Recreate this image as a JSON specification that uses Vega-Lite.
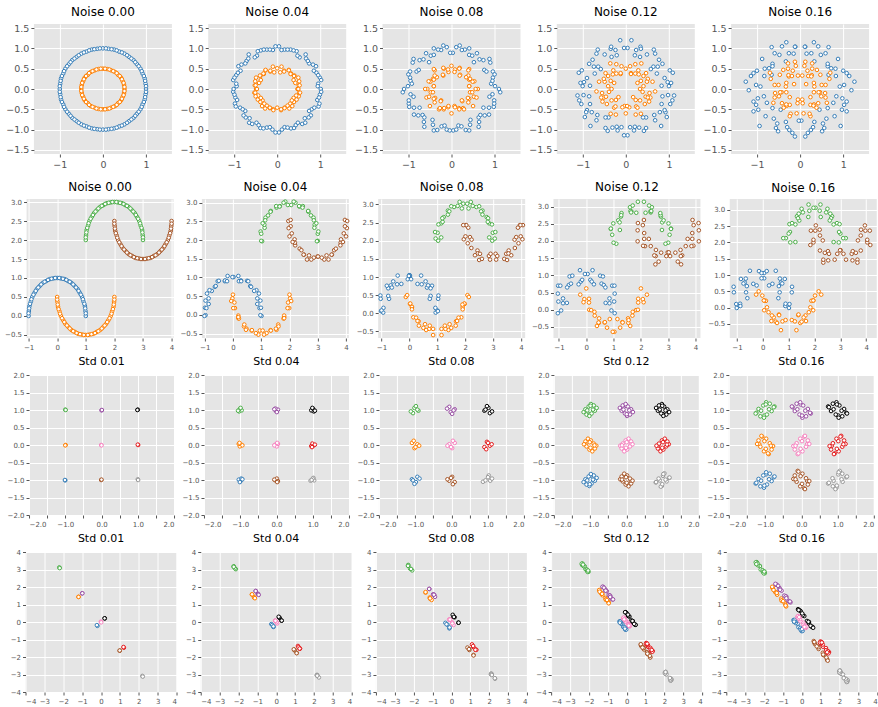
{
"$schema":"https://vega.github.io/schema/vega-lite/v6.json",
"padding":{"left":4,"top":6,"right":0,"bottom":0},
"config":{
"view":{"fill":"#E5E5E5","stroke":null},
"axis":{"domain":false,"grid":true,"gridColor":"#ffffff","gridWidth":1,"tickColor":"#555555","tickSize":3,"labelColor":"#555555","labelFont":"DejaVu Sans","labelFontSize":7,"labelPadding":2},
"title":{"font":"DejaVu Sans","fontSize":12,"fontWeight":"normal","color":"#000000","offset":4,"frame":"group"},
"point":{"filled":false,"size":13,"strokeWidth":1,"opacity":1,"fill":"#ffffff","clip":true},
"range":{"category":["#377eb8","#ff7f00","#4daf4a","#a65628","#984ea3","#000000","#f781bf","#e41a1c","#999999"]},
"legend":{"disable":true}
},
"columns":1,"center":true,"spacing":11,
"concat":[
{"hconcat":[
{"title":{"text":"Noise 0.00","fontWeight":"normal","fontSize":12},"width":138,"height":130,"mark":"point",
"encoding":{"x":{"field":"x","type":"quantitative","title":null,"scale":{"domain":[-1.6,1.6],"nice":false,"zero":false},"axis":{"values":[-1,0,1],"format":"d","labelFontSize":9.5}},"y":{"field":"y","type":"quantitative","title":null,"scale":{"domain":[-1.6,1.6],"nice":false,"zero":false},"axis":{"values":[-1.5,-1,-0.5,0,0.5,1,1.5],"format":".1f","labelFontSize":9.5}},"color":{"field":"c","type":"nominal","legend":null}},
"data":{"values":[
{"x":1,"y":0,"c":"a"},{"x":0.99,"y":0.13,"c":"a"},{"x":0.97,"y":0.26,"c":"a"},{"x":0.92,"y":0.38,"c":"a"},{"x":0.87,"y":0.5,"c":"a"},{"x":0.79,"y":0.61,"c":"a"},{"x":0.71,"y":0.71,"c":"a"},{"x":0.61,"y":0.79,"c":"a"},{"x":0.5,"y":0.87,"c":"a"},{"x":0.38,"y":0.92,"c":"a"},{"x":0.26,"y":0.97,"c":"a"},{"x":0.13,"y":0.99,"c":"a"},
{"x":0,"y":1,"c":"a"},{"x":-0.13,"y":0.99,"c":"a"},{"x":-0.26,"y":0.97,"c":"a"},{"x":-0.38,"y":0.92,"c":"a"},{"x":-0.5,"y":0.87,"c":"a"},{"x":-0.61,"y":0.79,"c":"a"},{"x":-0.71,"y":0.71,"c":"a"},{"x":-0.79,"y":0.61,"c":"a"},{"x":-0.87,"y":0.5,"c":"a"},{"x":-0.92,"y":0.38,"c":"a"},{"x":-0.97,"y":0.26,"c":"a"},{"x":-0.99,"y":0.13,"c":"a"},
{"x":-1,"y":0,"c":"a"},{"x":-0.99,"y":-0.13,"c":"a"},{"x":-0.97,"y":-0.26,"c":"a"},{"x":-0.92,"y":-0.38,"c":"a"},{"x":-0.87,"y":-0.5,"c":"a"},{"x":-0.79,"y":-0.61,"c":"a"},{"x":-0.71,"y":-0.71,"c":"a"},{"x":-0.61,"y":-0.79,"c":"a"},{"x":-0.5,"y":-0.87,"c":"a"},{"x":-0.38,"y":-0.92,"c":"a"},{"x":-0.26,"y":-0.97,"c":"a"},{"x":-0.13,"y":-0.99,"c":"a"},
{"x":0,"y":-1,"c":"a"},{"x":0.13,"y":-0.99,"c":"a"},{"x":0.26,"y":-0.97,"c":"a"},{"x":0.38,"y":-0.92,"c":"a"},{"x":0.5,"y":-0.87,"c":"a"},{"x":0.61,"y":-0.79,"c":"a"},{"x":0.71,"y":-0.71,"c":"a"},{"x":0.79,"y":-0.61,"c":"a"},{"x":0.87,"y":-0.5,"c":"a"},{"x":0.92,"y":-0.38,"c":"a"},{"x":0.97,"y":-0.26,"c":"a"},{"x":0.99,"y":-0.13,"c":"a"},
{"x":1,"y":0.07,"c":"a"},{"x":0.98,"y":0.2,"c":"a"},{"x":0.95,"y":0.32,"c":"a"},{"x":0.9,"y":0.44,"c":"a"},{"x":0.83,"y":0.56,"c":"a"},{"x":0.75,"y":0.66,"c":"a"},{"x":0.66,"y":0.75,"c":"a"},{"x":0.56,"y":0.83,"c":"a"},{"x":0.44,"y":0.9,"c":"a"},{"x":0.32,"y":0.95,"c":"a"},{"x":0.2,"y":0.98,"c":"a"},{"x":0.07,"y":1,"c":"a"},
{"x":-1,"y":0.07,"c":"a"},{"x":-0.98,"y":0.2,"c":"a"},{"x":-0.95,"y":0.32,"c":"a"},{"x":-0.9,"y":0.44,"c":"a"},{"x":-0.83,"y":0.56,"c":"a"},{"x":-0.75,"y":0.66,"c":"a"},{"x":-0.66,"y":0.75,"c":"a"},{"x":-0.56,"y":0.83,"c":"a"},{"x":-0.44,"y":0.9,"c":"a"},{"x":-0.32,"y":0.95,"c":"a"},{"x":-0.2,"y":0.98,"c":"a"},{"x":-0.07,"y":1,"c":"a"},
{"x":-1,"y":-0.07,"c":"a"},{"x":-0.98,"y":-0.2,"c":"a"},{"x":-0.95,"y":-0.32,"c":"a"},{"x":-0.9,"y":-0.44,"c":"a"},{"x":-0.83,"y":-0.56,"c":"a"},{"x":-0.75,"y":-0.66,"c":"a"},{"x":-0.66,"y":-0.75,"c":"a"},{"x":-0.56,"y":-0.83,"c":"a"},{"x":-0.44,"y":-0.9,"c":"a"},{"x":-0.32,"y":-0.95,"c":"a"},{"x":-0.2,"y":-0.98,"c":"a"},{"x":-0.07,"y":-1,"c":"a"},
{"x":1,"y":-0.07,"c":"a"},{"x":0.98,"y":-0.2,"c":"a"},{"x":0.95,"y":-0.32,"c":"a"},{"x":0.9,"y":-0.44,"c":"a"},{"x":0.83,"y":-0.56,"c":"a"},{"x":0.75,"y":-0.66,"c":"a"},{"x":0.66,"y":-0.75,"c":"a"},{"x":0.56,"y":-0.83,"c":"a"},{"x":0.44,"y":-0.9,"c":"a"},{"x":0.32,"y":-0.95,"c":"a"},{"x":0.2,"y":-0.98,"c":"a"},{"x":0.07,"y":-1,"c":"a"},
{"x":0.5,"y":0,"c":"b"},{"x":0.49,"y":0.1,"c":"b"},{"x":0.46,"y":0.19,"c":"b"},{"x":0.42,"y":0.28,"c":"b"},{"x":0.35,"y":0.35,"c":"b"},{"x":0.28,"y":0.42,"c":"b"},{"x":0.19,"y":0.46,"c":"b"},{"x":0.1,"y":0.49,"c":"b"},
{"x":0,"y":0.5,"c":"b"},{"x":-0.1,"y":0.49,"c":"b"},{"x":-0.19,"y":0.46,"c":"b"},{"x":-0.28,"y":0.42,"c":"b"},{"x":-0.35,"y":0.35,"c":"b"},{"x":-0.42,"y":0.28,"c":"b"},{"x":-0.46,"y":0.19,"c":"b"},{"x":-0.49,"y":0.1,"c":"b"},
{"x":-0.5,"y":0,"c":"b"},{"x":-0.49,"y":-0.1,"c":"b"},{"x":-0.46,"y":-0.19,"c":"b"},{"x":-0.42,"y":-0.28,"c":"b"},{"x":-0.35,"y":-0.35,"c":"b"},{"x":-0.28,"y":-0.42,"c":"b"},{"x":-0.19,"y":-0.46,"c":"b"},{"x":-0.1,"y":-0.49,"c":"b"},
{"x":0,"y":-0.5,"c":"b"},{"x":0.1,"y":-0.49,"c":"b"},{"x":0.19,"y":-0.46,"c":"b"},{"x":0.28,"y":-0.42,"c":"b"},{"x":0.35,"y":-0.35,"c":"b"},{"x":0.42,"y":-0.28,"c":"b"},{"x":0.46,"y":-0.19,"c":"b"},{"x":0.49,"y":-0.1,"c":"b"},
{"x":0.5,"y":0.05,"c":"b"},{"x":0.48,"y":0.15,"c":"b"},{"x":0.44,"y":0.24,"c":"b"},{"x":0.39,"y":0.32,"c":"b"},{"x":0.32,"y":0.39,"c":"b"},{"x":0.24,"y":0.44,"c":"b"},{"x":0.15,"y":0.48,"c":"b"},{"x":0.05,"y":0.5,"c":"b"},
{"x":-0.5,"y":0.05,"c":"b"},{"x":-0.48,"y":0.15,"c":"b"},{"x":-0.44,"y":0.24,"c":"b"},{"x":-0.39,"y":0.32,"c":"b"},{"x":-0.32,"y":0.39,"c":"b"},{"x":-0.24,"y":0.44,"c":"b"},{"x":-0.15,"y":0.48,"c":"b"},{"x":-0.05,"y":0.5,"c":"b"},
{"x":-0.5,"y":-0.05,"c":"b"},{"x":-0.48,"y":-0.15,"c":"b"},{"x":-0.44,"y":-0.24,"c":"b"},{"x":-0.39,"y":-0.32,"c":"b"},{"x":-0.32,"y":-0.39,"c":"b"},{"x":-0.24,"y":-0.44,"c":"b"},{"x":-0.15,"y":-0.48,"c":"b"},{"x":-0.05,"y":-0.5,"c":"b"},
{"x":0.5,"y":-0.05,"c":"b"},{"x":0.48,"y":-0.15,"c":"b"},{"x":0.44,"y":-0.24,"c":"b"},{"x":0.39,"y":-0.32,"c":"b"},{"x":0.32,"y":-0.39,"c":"b"},{"x":0.24,"y":-0.44,"c":"b"},{"x":0.15,"y":-0.48,"c":"b"},{"x":0.05,"y":-0.5,"c":"b"}
]}},
{"title":{"text":"Noise 0.04","fontWeight":"normal","fontSize":12},"width":138,"height":130,"mark":"point",
"encoding":{"x":{"field":"x","type":"quantitative","title":null,"scale":{"domain":[-1.6,1.6],"nice":false,"zero":false},"axis":{"values":[-1,0,1],"format":"d","labelFontSize":9.5}},"y":{"field":"y","type":"quantitative","title":null,"scale":{"domain":[-1.6,1.6],"nice":false,"zero":false},"axis":{"values":[-1.5,-1,-0.5,0,0.5,1,1.5],"format":".1f","labelFontSize":9.5}},"color":{"field":"c","type":"nominal","legend":null}},
"data":{"values":[
{"x":1.01,"y":0,"c":"a"},{"x":0.95,"y":0.13,"c":"a"},{"x":0.99,"y":0.28,"c":"a"},{"x":0.91,"y":0.4,"c":"a"},{"x":0.9,"y":0.56,"c":"a"},{"x":0.74,"y":0.63,"c":"a"},{"x":0.67,"y":0.75,"c":"a"},{"x":0.52,"y":0.78,"c":"a"},{"x":0.45,"y":0.93,"c":"a"},{"x":0.31,"y":0.97,"c":"a"},{"x":0.17,"y":0.97,"c":"a"},{"x":0.04,"y":1.05,"c":"a"},{"x":-0.1,"y":0.96,"c":"a"},{"x":-0.24,"y":0.97,"c":"a"},{"x":-0.38,"y":0.95,"c":"a"},{"x":-0.47,"y":0.82,"c":"a"},{"x":-0.66,"y":0.85,"c":"a"},{"x":-0.71,"y":0.69,"c":"a"},{"x":-0.83,"y":0.6,"c":"a"},{"x":-0.85,"y":0.45,"c":"a"},{"x":-0.95,"y":0.34,"c":"a"},{"x":-1.02,"y":0.22,"c":"a"},{"x":-0.94,"y":0.07,"c":"a"},{"x":-1.02,"y":-0.07,"c":"a"},{"x":-0.97,"y":-0.21,"c":"a"},{"x":-0.98,"y":-0.36,"c":"a"},{"x":-0.86,"y":-0.46,"c":"a"},{"x":-0.74,"y":-0.54,"c":"a"},{"x":-0.73,"y":-0.7,"c":"a"},{"x":-0.65,"y":-0.83,"c":"a"},{"x":-0.48,"y":-0.83,"c":"a"},{"x":-0.39,"y":-0.96,"c":"a"},{"x":-0.24,"y":-0.95,"c":"a"},{"x":-0.11,"y":-1,"c":"a"},{"x":0.04,"y":-1.07,"c":"a"},{"x":0.17,"y":-0.94,"c":"a"},{"x":0.32,"y":-0.97,"c":"a"},{"x":0.43,"y":-0.89,"c":"a"},{"x":0.58,"y":-0.86,"c":"a"},{"x":0.64,"y":-0.72,"c":"a"},{"x":0.78,"y":-0.65,"c":"a"},{"x":0.8,"y":-0.5,"c":"a"},{"x":0.96,"y":-0.43,"c":"a"},{"x":0.93,"y":-0.27,"c":"a"},{"x":0.99,"y":-0.14,"c":"a"},
{"x":-1.01,"y":0,"c":"a"},{"x":-0.95,"y":0.13,"c":"a"},{"x":-0.99,"y":0.28,"c":"a"},{"x":-0.91,"y":0.4,"c":"a"},{"x":-0.9,"y":0.56,"c":"a"},{"x":-0.74,"y":0.63,"c":"a"},{"x":-0.67,"y":0.75,"c":"a"},{"x":-0.52,"y":0.78,"c":"a"},{"x":-0.45,"y":0.93,"c":"a"},{"x":-0.31,"y":0.97,"c":"a"},{"x":-0.17,"y":0.97,"c":"a"},{"x":-0.04,"y":1.05,"c":"a"},{"x":0.1,"y":0.96,"c":"a"},{"x":0.24,"y":0.97,"c":"a"},{"x":0.38,"y":0.95,"c":"a"},{"x":0.47,"y":0.82,"c":"a"},{"x":0.66,"y":0.85,"c":"a"},{"x":0.71,"y":0.69,"c":"a"},{"x":0.83,"y":0.6,"c":"a"},{"x":0.85,"y":0.45,"c":"a"},{"x":0.95,"y":0.34,"c":"a"},{"x":1.02,"y":0.22,"c":"a"},{"x":0.94,"y":0.07,"c":"a"},{"x":1.02,"y":-0.07,"c":"a"},{"x":0.97,"y":-0.21,"c":"a"},{"x":0.98,"y":-0.36,"c":"a"},{"x":0.86,"y":-0.46,"c":"a"},{"x":0.74,"y":-0.54,"c":"a"},{"x":0.73,"y":-0.7,"c":"a"},{"x":0.65,"y":-0.83,"c":"a"},{"x":0.48,"y":-0.83,"c":"a"},{"x":0.39,"y":-0.96,"c":"a"},{"x":0.24,"y":-0.95,"c":"a"},{"x":0.11,"y":-1,"c":"a"},{"x":-0.04,"y":-1.07,"c":"a"},{"x":-0.17,"y":-0.94,"c":"a"},{"x":-0.32,"y":-0.97,"c":"a"},{"x":-0.43,"y":-0.89,"c":"a"},{"x":-0.58,"y":-0.86,"c":"a"},{"x":-0.64,"y":-0.72,"c":"a"},{"x":-0.78,"y":-0.65,"c":"a"},{"x":-0.8,"y":-0.5,"c":"a"},{"x":-0.96,"y":-0.43,"c":"a"},{"x":-0.93,"y":-0.27,"c":"a"},{"x":-0.99,"y":-0.14,"c":"a"},
{"x":0.47,"y":0,"c":"b"},{"x":0.5,"y":0.09,"c":"b"},{"x":0.51,"y":0.19,"c":"b"},{"x":0.38,"y":0.22,"c":"b"},{"x":0.4,"y":0.33,"c":"b"},{"x":0.32,"y":0.38,"c":"b"},{"x":0.27,"y":0.47,"c":"b"},{"x":0.16,"y":0.45,"c":"b"},{"x":0.07,"y":0.41,"c":"b"},{"x":0,"y":0.51,"c":"b"},{"x":-0.1,"y":0.55,"c":"b"},{"x":-0.16,"y":0.43,"c":"b"},{"x":-0.27,"y":0.46,"c":"b"},{"x":-0.31,"y":0.37,"c":"b"},{"x":-0.39,"y":0.32,"c":"b"},{"x":-0.49,"y":0.28,"c":"b"},{"x":-0.42,"y":0.15,"c":"b"},{"x":-0.52,"y":0.09,"c":"b"},{"x":-0.49,"y":0,"c":"b"},{"x":-0.53,"y":-0.09,"c":"b"},{"x":-0.44,"y":-0.16,"c":"b"},{"x":-0.45,"y":-0.26,"c":"b"},{"x":-0.34,"y":-0.28,"c":"b"},{"x":-0.35,"y":-0.42,"c":"b"},{"x":-0.24,"y":-0.41,"c":"b"},{"x":-0.17,"y":-0.47,"c":"b"},{"x":-0.09,"y":-0.5,"c":"b"},{"x":0,"y":-0.46,"c":"b"},{"x":0.09,"y":-0.52,"c":"b"},{"x":0.17,"y":-0.46,"c":"b"},{"x":0.28,"y":-0.48,"c":"b"},{"x":0.3,"y":-0.36,"c":"b"},{"x":0.39,"y":-0.32,"c":"b"},{"x":0.38,"y":-0.22,"c":"b"},{"x":0.5,"y":-0.18,"c":"b"},{"x":0.51,"y":-0.09,"c":"b"},
{"x":-0.47,"y":0,"c":"b"},{"x":-0.5,"y":0.09,"c":"b"},{"x":-0.51,"y":0.19,"c":"b"},{"x":-0.38,"y":0.22,"c":"b"},{"x":-0.4,"y":0.33,"c":"b"},{"x":-0.32,"y":0.38,"c":"b"},{"x":-0.27,"y":0.47,"c":"b"},{"x":-0.16,"y":0.45,"c":"b"},{"x":-0.07,"y":0.41,"c":"b"},{"x":0.1,"y":0.55,"c":"b"},{"x":0.16,"y":0.43,"c":"b"},{"x":0.27,"y":0.46,"c":"b"},{"x":0.31,"y":0.37,"c":"b"},{"x":0.39,"y":0.32,"c":"b"},{"x":0.49,"y":0.28,"c":"b"},{"x":0.42,"y":0.15,"c":"b"},{"x":0.52,"y":0.09,"c":"b"},{"x":0.49,"y":0,"c":"b"},{"x":0.53,"y":-0.09,"c":"b"},{"x":0.44,"y":-0.16,"c":"b"},{"x":0.45,"y":-0.26,"c":"b"},{"x":0.34,"y":-0.28,"c":"b"},{"x":0.35,"y":-0.42,"c":"b"},{"x":0.24,"y":-0.41,"c":"b"},{"x":0.17,"y":-0.47,"c":"b"},{"x":0.09,"y":-0.5,"c":"b"},{"x":-0.09,"y":-0.52,"c":"b"},{"x":-0.17,"y":-0.46,"c":"b"},{"x":-0.28,"y":-0.48,"c":"b"},{"x":-0.3,"y":-0.36,"c":"b"},{"x":-0.39,"y":-0.32,"c":"b"},{"x":-0.38,"y":-0.22,"c":"b"},{"x":-0.5,"y":-0.18,"c":"b"},{"x":-0.51,"y":-0.09,"c":"b"}
]}},
{"title":{"text":"Noise 0.08","fontWeight":"normal","fontSize":12},"width":138,"height":130,"mark":"point",
"encoding":{"x":{"field":"x","type":"quantitative","title":null,"scale":{"domain":[-1.6,1.6],"nice":false,"zero":false},"axis":{"values":[-1,0,1],"format":"d","labelFontSize":9.5}},"y":{"field":"y","type":"quantitative","title":null,"scale":{"domain":[-1.6,1.6],"nice":false,"zero":false},"axis":{"values":[-1.5,-1,-0.5,0,0.5,1,1.5],"format":".1f","labelFontSize":9.5}},"color":{"field":"c","type":"nominal","legend":null}},
"data":{"values":[
{"x":1.1,"y":0,"c":"a"},{"x":0.92,"y":0.13,"c":"a"},{"x":0.96,"y":0.28,"c":"a"},{"x":0.96,"y":0.43,"c":"a"},{"x":0.76,"y":0.47,"c":"a"},{"x":0.88,"y":0.74,"c":"a"},{"x":0.65,"y":0.73,"c":"a"},{"x":0.59,"y":0.88,"c":"a"},{"x":0.41,"y":0.84,"c":"a"},{"x":0.31,"y":0.97,"c":"a"},{"x":0.19,"y":1.07,"c":"a"},{"x":0.03,"y":0.89,"c":"a"},{"x":-0.11,"y":1.03,"c":"a"},{"x":-0.24,"y":0.96,"c":"a"},{"x":-0.41,"y":1,"c":"a"},{"x":-0.48,"y":0.82,"c":"a"},{"x":-0.52,"y":0.66,"c":"a"},{"x":-0.74,"y":0.71,"c":"a"},{"x":-0.9,"y":0.65,"c":"a"},{"x":-0.81,"y":0.43,"c":"a"},{"x":-1,"y":0.36,"c":"a"},{"x":-0.95,"y":0.2,"c":"a"},{"x":-1.01,"y":0.07,"c":"a"},{"x":-1.13,"y":-0.08,"c":"a"},{"x":-0.88,"y":-0.19,"c":"a"},{"x":-0.99,"y":-0.36,"c":"a"},{"x":-0.87,"y":-0.46,"c":"a"},{"x":-0.87,"y":-0.63,"c":"a"},{"x":-0.67,"y":-0.64,"c":"a"},{"x":-0.64,"y":-0.81,"c":"a"},{"x":-0.44,"y":-0.76,"c":"a"},{"x":-0.41,"y":-1.02,"c":"a"},{"x":-0.23,"y":-0.92,"c":"a"},{"x":-0.11,"y":-1,"c":"a"},{"x":0.04,"y":-1.02,"c":"a"},{"x":0.16,"y":-0.9,"c":"a"},{"x":0.33,"y":-1.01,"c":"a"},{"x":0.43,"y":-0.88,"c":"a"},{"x":0.63,"y":-0.93,"c":"a"},{"x":0.63,"y":-0.7,"c":"a"},{"x":0.77,"y":-0.65,"c":"a"},{"x":0.74,"y":-0.46,"c":"a"},{"x":0.98,"y":-0.44,"c":"a"},{"x":0.99,"y":-0.28,"c":"a"},{"x":0.95,"y":-0.13,"c":"a"},
{"x":-1.1,"y":0,"c":"a"},{"x":-0.92,"y":0.13,"c":"a"},{"x":-0.96,"y":0.28,"c":"a"},{"x":-0.96,"y":0.43,"c":"a"},{"x":-0.76,"y":0.47,"c":"a"},{"x":-0.88,"y":0.74,"c":"a"},{"x":-0.65,"y":0.73,"c":"a"},{"x":-0.59,"y":0.88,"c":"a"},{"x":-0.41,"y":0.84,"c":"a"},{"x":-0.31,"y":0.97,"c":"a"},{"x":-0.19,"y":1.07,"c":"a"},{"x":-0.03,"y":0.89,"c":"a"},{"x":0.11,"y":1.03,"c":"a"},{"x":0.24,"y":0.96,"c":"a"},{"x":0.41,"y":1,"c":"a"},{"x":0.48,"y":0.82,"c":"a"},{"x":0.52,"y":0.66,"c":"a"},{"x":0.74,"y":0.71,"c":"a"},{"x":0.9,"y":0.65,"c":"a"},{"x":0.81,"y":0.43,"c":"a"},{"x":1,"y":0.36,"c":"a"},{"x":0.95,"y":0.2,"c":"a"},{"x":1.01,"y":0.07,"c":"a"},{"x":1.13,"y":-0.08,"c":"a"},{"x":0.88,"y":-0.19,"c":"a"},{"x":0.99,"y":-0.36,"c":"a"},{"x":0.87,"y":-0.46,"c":"a"},{"x":0.87,"y":-0.63,"c":"a"},{"x":0.67,"y":-0.64,"c":"a"},{"x":0.64,"y":-0.81,"c":"a"},{"x":0.44,"y":-0.76,"c":"a"},{"x":0.41,"y":-1.02,"c":"a"},{"x":0.23,"y":-0.92,"c":"a"},{"x":0.11,"y":-1,"c":"a"},{"x":-0.04,"y":-1.02,"c":"a"},{"x":-0.16,"y":-0.9,"c":"a"},{"x":-0.33,"y":-1.01,"c":"a"},{"x":-0.43,"y":-0.88,"c":"a"},{"x":-0.63,"y":-0.93,"c":"a"},{"x":-0.63,"y":-0.7,"c":"a"},{"x":-0.77,"y":-0.65,"c":"a"},{"x":-0.74,"y":-0.46,"c":"a"},{"x":-0.98,"y":-0.44,"c":"a"},{"x":-0.99,"y":-0.28,"c":"a"},{"x":-0.95,"y":-0.13,"c":"a"},
{"x":0.61,"y":0,"c":"b"},{"x":0.41,"y":0.07,"c":"b"},{"x":0.53,"y":0.19,"c":"b"},{"x":0.41,"y":0.23,"c":"b"},{"x":0.39,"y":0.33,"c":"b"},{"x":0.41,"y":0.49,"c":"b"},{"x":0.2,"y":0.35,"c":"b"},{"x":0.19,"y":0.52,"c":"b"},{"x":0.08,"y":0.48,"c":"b"},{"x":0,"y":0.57,"c":"b"},{"x":-0.07,"y":0.42,"c":"b"},{"x":-0.18,"y":0.5,"c":"b"},{"x":-0.19,"y":0.33,"c":"b"},{"x":-0.39,"y":0.46,"c":"b"},{"x":-0.34,"y":0.29,"c":"b"},{"x":-0.43,"y":0.25,"c":"b"},{"x":-0.49,"y":0.18,"c":"b"},{"x":-0.41,"y":0.07,"c":"b"},{"x":-0.56,"y":0,"c":"b"},{"x":-0.48,"y":-0.08,"c":"b"},{"x":-0.58,"y":-0.21,"c":"b"},{"x":-0.38,"y":-0.22,"c":"b"},{"x":-0.39,"y":-0.33,"c":"b"},{"x":-0.24,"y":-0.28,"c":"b"},{"x":-0.29,"y":-0.5,"c":"b"},{"x":-0.18,"y":-0.5,"c":"b"},{"x":-0.08,"y":-0.45,"c":"b"},{"x":0,"y":-0.6,"c":"b"},{"x":0.07,"y":-0.42,"c":"b"},{"x":0.17,"y":-0.47,"c":"b"},{"x":0.27,"y":-0.47,"c":"b"},{"x":0.25,"y":-0.3,"c":"b"},{"x":0.5,"y":-0.42,"c":"b"},{"x":0.41,"y":-0.24,"c":"b"},{"x":0.52,"y":-0.19,"c":"b"},{"x":0.43,"y":-0.08,"c":"b"},
{"x":-0.61,"y":0,"c":"b"},{"x":-0.41,"y":0.07,"c":"b"},{"x":-0.53,"y":0.19,"c":"b"},{"x":-0.41,"y":0.23,"c":"b"},{"x":-0.39,"y":0.33,"c":"b"},{"x":-0.41,"y":0.49,"c":"b"},{"x":-0.2,"y":0.35,"c":"b"},{"x":-0.19,"y":0.52,"c":"b"},{"x":-0.08,"y":0.48,"c":"b"},{"x":0.07,"y":0.42,"c":"b"},{"x":0.18,"y":0.5,"c":"b"},{"x":0.19,"y":0.33,"c":"b"},{"x":0.39,"y":0.46,"c":"b"},{"x":0.34,"y":0.29,"c":"b"},{"x":0.43,"y":0.25,"c":"b"},{"x":0.49,"y":0.18,"c":"b"},{"x":0.41,"y":0.07,"c":"b"},{"x":0.56,"y":0,"c":"b"},{"x":0.48,"y":-0.08,"c":"b"},{"x":0.58,"y":-0.21,"c":"b"},{"x":0.38,"y":-0.22,"c":"b"},{"x":0.39,"y":-0.33,"c":"b"},{"x":0.24,"y":-0.28,"c":"b"},{"x":0.29,"y":-0.5,"c":"b"},{"x":0.18,"y":-0.5,"c":"b"},{"x":0.08,"y":-0.45,"c":"b"},{"x":-0.07,"y":-0.42,"c":"b"},{"x":-0.17,"y":-0.47,"c":"b"},{"x":-0.27,"y":-0.47,"c":"b"},{"x":-0.25,"y":-0.3,"c":"b"},{"x":-0.5,"y":-0.42,"c":"b"},{"x":-0.41,"y":-0.24,"c":"b"},{"x":-0.52,"y":-0.19,"c":"b"},{"x":-0.43,"y":-0.08,"c":"b"}
]}},
{"title":{"text":"Noise 0.12","fontWeight":"normal","fontSize":12},"width":138,"height":130,"mark":"point",
"encoding":{"x":{"field":"x","type":"quantitative","title":null,"scale":{"domain":[-1.6,1.6],"nice":false,"zero":false},"axis":{"values":[-1,0,1],"format":"d","labelFontSize":9.5}},"y":{"field":"y","type":"quantitative","title":null,"scale":{"domain":[-1.6,1.6],"nice":false,"zero":false},"axis":{"values":[-1.5,-1,-0.5,0,0.5,1,1.5],"format":".1f","labelFontSize":9.5}},"color":{"field":"c","type":"nominal","legend":null}},
"data":{"values":[
{"x":0.83,"y":0.08,"c":"a"},{"x":1.05,"y":0.15,"c":"a"},{"x":0.97,"y":0.17,"c":"a"},{"x":1.02,"y":0.46,"c":"a"},{"x":0.74,"y":0.55,"c":"a"},{"x":0.58,"y":0.49,"c":"a"},{"x":0.77,"y":0.72,"c":"a"},{"x":0.65,"y":0.97,"c":"a"},{"x":0.33,"y":0.79,"c":"a"},{"x":0.34,"y":1.04,"c":"a"},{"x":0.24,"y":0.96,"c":"a"},{"x":0.04,"y":1.01,"c":"a"},{"x":-0.13,"y":1.2,"c":"a"},{"x":-0.21,"y":0.83,"c":"a"},{"x":-0.35,"y":0.99,"c":"a"},{"x":-0.49,"y":0.85,"c":"a"},{"x":-0.68,"y":0.87,"c":"a"},{"x":-0.64,"y":0.55,"c":"a"},{"x":-0.85,"y":0.62,"c":"a"},{"x":-0.72,"y":0.38,"c":"a"},{"x":-1.09,"y":0.4,"c":"a"},{"x":-0.9,"y":0.27,"c":"a"},{"x":-1,"y":0.07,"c":"a"},{"x":-0.98,"y":-0.15,"c":"a"},{"x":-0.85,"y":-0.18,"c":"a"},{"x":-1.03,"y":-0.37,"c":"a"},{"x":-0.9,"y":-0.52,"c":"a"},{"x":-0.95,"y":-0.69,"c":"a"},{"x":-0.66,"y":-0.64,"c":"a"},{"x":-0.68,"y":-0.77,"c":"a"},{"x":-0.4,"y":-0.7,"c":"a"},{"x":-0.42,"y":-1.03,"c":"a"},{"x":-0.19,"y":-1.02,"c":"a"},{"x":-0.1,"y":-0.94,"c":"a"},{"x":0.04,"y":-1.14,"c":"a"},{"x":0.21,"y":-0.93,"c":"a"},{"x":0.31,"y":-0.95,"c":"a"},{"x":0.47,"y":-0.96,"c":"a"},{"x":0.47,"y":-0.7,"c":"a"},{"x":0.82,"y":-0.91,"c":"a"},{"x":0.79,"y":-0.57,"c":"a"},{"x":0.92,"y":-0.57,"c":"a"},{"x":0.83,"y":-0.37,"c":"a"},{"x":1.08,"y":-0.28,"c":"a"},{"x":1.12,"y":-0.16,"c":"a"},
{"x":-0.83,"y":0.08,"c":"a"},{"x":-1.05,"y":0.15,"c":"a"},{"x":-0.97,"y":0.17,"c":"a"},{"x":-1.02,"y":0.46,"c":"a"},{"x":-0.74,"y":0.55,"c":"a"},{"x":-0.58,"y":0.49,"c":"a"},{"x":-0.77,"y":0.72,"c":"a"},{"x":-0.65,"y":0.97,"c":"a"},{"x":-0.33,"y":0.79,"c":"a"},{"x":-0.34,"y":1.04,"c":"a"},{"x":-0.24,"y":0.96,"c":"a"},{"x":-0.04,"y":1.01,"c":"a"},{"x":0.13,"y":1.2,"c":"a"},{"x":0.21,"y":0.83,"c":"a"},{"x":0.35,"y":0.99,"c":"a"},{"x":0.49,"y":0.85,"c":"a"},{"x":0.68,"y":0.87,"c":"a"},{"x":0.64,"y":0.55,"c":"a"},{"x":0.85,"y":0.62,"c":"a"},{"x":0.72,"y":0.38,"c":"a"},{"x":1.09,"y":0.4,"c":"a"},{"x":0.9,"y":0.27,"c":"a"},{"x":1,"y":0.07,"c":"a"},{"x":0.98,"y":-0.15,"c":"a"},{"x":0.85,"y":-0.18,"c":"a"},{"x":1.03,"y":-0.37,"c":"a"},{"x":0.9,"y":-0.52,"c":"a"},{"x":0.95,"y":-0.69,"c":"a"},{"x":0.66,"y":-0.64,"c":"a"},{"x":0.68,"y":-0.77,"c":"a"},{"x":0.4,"y":-0.7,"c":"a"},{"x":0.42,"y":-1.03,"c":"a"},{"x":0.19,"y":-1.02,"c":"a"},{"x":0.1,"y":-0.94,"c":"a"},{"x":-0.04,"y":-1.14,"c":"a"},{"x":-0.21,"y":-0.93,"c":"a"},{"x":-0.31,"y":-0.95,"c":"a"},{"x":-0.47,"y":-0.96,"c":"a"},{"x":-0.47,"y":-0.7,"c":"a"},{"x":-0.82,"y":-0.91,"c":"a"},{"x":-0.79,"y":-0.57,"c":"a"},{"x":-0.92,"y":-0.57,"c":"a"},{"x":-0.83,"y":-0.37,"c":"a"},{"x":-1.08,"y":-0.28,"c":"a"},{"x":-1.12,"y":-0.16,"c":"a"},
{"x":0.68,"y":-0.06,"c":"b"},{"x":0.41,"y":0.07,"c":"b"},{"x":0.51,"y":0.25,"c":"b"},{"x":0.27,"y":0.15,"c":"b"},{"x":0.47,"y":0.39,"c":"b"},{"x":0.29,"y":0.46,"c":"b"},{"x":0.22,"y":0.38,"c":"b"},{"x":0.22,"y":0.61,"c":"b"},{"x":0.12,"y":0.39,"c":"b"},{"x":0,"y":0.5,"c":"b"},{"x":-0.1,"y":0.56,"c":"b"},{"x":-0.12,"y":0.37,"c":"b"},{"x":-0.36,"y":0.63,"c":"b"},{"x":-0.3,"y":0.36,"c":"b"},{"x":-0.41,"y":0.32,"c":"b"},{"x":-0.35,"y":0.2,"c":"b"},{"x":-0.49,"y":0.18,"c":"b"},{"x":-0.62,"y":0.18,"c":"b"},{"x":-0.33,"y":0,"c":"b"},{"x":-0.55,"y":-0.1,"c":"b"},{"x":-0.51,"y":-0.21,"c":"b"},{"x":-0.54,"y":-0.31,"c":"b"},{"x":-0.33,"y":-0.28,"c":"b"},{"x":-0.17,"y":-0.2,"c":"b"},{"x":-0.27,"y":-0.46,"c":"b"},{"x":-0.23,"y":-0.63,"c":"b"},{"x":-0.03,"y":-0.42,"c":"b"},{"x":0,"y":-0.6,"c":"b"},{"x":0.08,"y":-0.45,"c":"b"},{"x":0.24,"y":-0.43,"c":"b"},{"x":0.35,"y":-0.61,"c":"b"},{"x":0.23,"y":-0.27,"c":"b"},{"x":0.44,"y":-0.37,"c":"b"},{"x":0.46,"y":-0.19,"c":"b"},{"x":0.57,"y":-0.21,"c":"b"},{"x":0.39,"y":-0.07,"c":"b"},
{"x":-0.68,"y":-0.06,"c":"b"},{"x":-0.41,"y":0.07,"c":"b"},{"x":-0.51,"y":0.25,"c":"b"},{"x":-0.27,"y":0.15,"c":"b"},{"x":-0.47,"y":0.39,"c":"b"},{"x":-0.29,"y":0.46,"c":"b"},{"x":-0.22,"y":0.38,"c":"b"},{"x":-0.22,"y":0.61,"c":"b"},{"x":-0.12,"y":0.39,"c":"b"},{"x":0.1,"y":0.56,"c":"b"},{"x":0.12,"y":0.37,"c":"b"},{"x":0.36,"y":0.63,"c":"b"},{"x":0.3,"y":0.36,"c":"b"},{"x":0.41,"y":0.32,"c":"b"},{"x":0.35,"y":0.2,"c":"b"},{"x":0.49,"y":0.18,"c":"b"},{"x":0.62,"y":0.18,"c":"b"},{"x":0.33,"y":0,"c":"b"},{"x":0.55,"y":-0.1,"c":"b"},{"x":0.51,"y":-0.21,"c":"b"},{"x":0.54,"y":-0.31,"c":"b"},{"x":0.33,"y":-0.28,"c":"b"},{"x":0.17,"y":-0.2,"c":"b"},{"x":0.27,"y":-0.46,"c":"b"},{"x":0.23,"y":-0.63,"c":"b"},{"x":0.03,"y":-0.42,"c":"b"},{"x":-0.08,"y":-0.45,"c":"b"},{"x":-0.24,"y":-0.43,"c":"b"},{"x":-0.35,"y":-0.61,"c":"b"},{"x":-0.23,"y":-0.27,"c":"b"},{"x":-0.44,"y":-0.37,"c":"b"},{"x":-0.46,"y":-0.19,"c":"b"},{"x":-0.57,"y":-0.21,"c":"b"},{"x":-0.39,"y":-0.07,"c":"b"}
]}},
{"title":{"text":"Noise 0.16","fontWeight":"normal","fontSize":12},"width":138,"height":130,"mark":"point",
"encoding":{"x":{"field":"x","type":"quantitative","title":null,"scale":{"domain":[-1.6,1.6],"nice":false,"zero":false},"axis":{"values":[-1,0,1],"format":"d","labelFontSize":9.5}},"y":{"field":"y","type":"quantitative","title":null,"scale":{"domain":[-1.6,1.6],"nice":false,"zero":false},"axis":{"values":[-1.5,-1,-0.5,0,0.5,1,1.5],"format":".1f","labelFontSize":9.5}},"color":{"field":"c","type":"nominal","legend":null}},
"data":{"values":[
{"x":1.02,"y":0.1,"c":"a"},{"x":1.26,"y":0.18,"c":"a"},{"x":0.83,"y":0.32,"c":"a"},{"x":1,"y":0.45,"c":"a"},{"x":0.72,"y":0.51,"c":"a"},{"x":0.88,"y":0.74,"c":"a"},{"x":0.64,"y":0.56,"c":"a"},{"x":0.59,"y":0.88,"c":"a"},{"x":0.33,"y":0.68,"c":"a"},{"x":0.32,"y":1.15,"c":"a"},{"x":0.15,"y":0.87,"c":"a"},{"x":0.12,"y":1.04,"c":"a"},{"x":-0.11,"y":1.04,"c":"a"},{"x":-0.26,"y":0.88,"c":"a"},{"x":-0.42,"y":1.05,"c":"a"},{"x":-0.48,"y":0.84,"c":"a"},{"x":-0.66,"y":1.03,"c":"a"},{"x":-0.64,"y":0.62,"c":"a"},{"x":-0.82,"y":0.5,"c":"a"},{"x":-0.66,"y":0.35,"c":"a"},{"x":-1.08,"y":0.39,"c":"a"},{"x":-1.14,"y":0.32,"c":"a"},{"x":-0.92,"y":0.06,"c":"a"},{"x":-1.19,"y":-0.03,"c":"a"},{"x":-0.84,"y":-0.18,"c":"a"},{"x":-1.02,"y":-0.39,"c":"a"},{"x":-0.97,"y":-0.51,"c":"a"},{"x":-0.64,"y":-0.47,"c":"a"},{"x":-0.94,"y":-0.91,"c":"a"},{"x":-0.53,"y":-0.85,"c":"a"},{"x":-0.56,"y":-0.96,"c":"a"},{"x":-0.33,"y":-0.81,"c":"a"},{"x":-0.18,"y":-1.08,"c":"a"},{"x":-0.12,"y":-1.17,"c":"a"},{"x":0.03,"y":-0.78,"c":"a"},{"x":0.25,"y":-1.01,"c":"a"},{"x":0.3,"y":-0.94,"c":"a"},{"x":0.51,"y":-1.04,"c":"a"},{"x":0.61,"y":-0.73,"c":"a"},{"x":0.45,"y":-0.51,"c":"a"},{"x":0.8,"y":-0.67,"c":"a"},{"x":1.08,"y":-0.55,"c":"a"},{"x":0.77,"y":-0.34,"c":"a"},{"x":1.08,"y":-0.31,"c":"a"},{"x":0.98,"y":-0.23,"c":"a"},
{"x":-1.02,"y":0.1,"c":"a"},{"x":-1.26,"y":0.18,"c":"a"},{"x":-0.83,"y":0.32,"c":"a"},{"x":-1,"y":0.45,"c":"a"},{"x":-0.72,"y":0.51,"c":"a"},{"x":-0.88,"y":0.74,"c":"a"},{"x":-0.64,"y":0.56,"c":"a"},{"x":-0.59,"y":0.88,"c":"a"},{"x":-0.33,"y":0.68,"c":"a"},{"x":-0.32,"y":1.15,"c":"a"},{"x":-0.15,"y":0.87,"c":"a"},{"x":-0.12,"y":1.04,"c":"a"},{"x":0.11,"y":1.04,"c":"a"},{"x":0.26,"y":0.88,"c":"a"},{"x":0.42,"y":1.05,"c":"a"},{"x":0.48,"y":0.84,"c":"a"},{"x":0.66,"y":1.03,"c":"a"},{"x":0.64,"y":0.62,"c":"a"},{"x":0.82,"y":0.5,"c":"a"},{"x":0.66,"y":0.35,"c":"a"},{"x":1.08,"y":0.39,"c":"a"},{"x":1.14,"y":0.32,"c":"a"},{"x":0.92,"y":0.06,"c":"a"},{"x":1.19,"y":-0.03,"c":"a"},{"x":0.84,"y":-0.18,"c":"a"},{"x":1.02,"y":-0.39,"c":"a"},{"x":0.97,"y":-0.51,"c":"a"},{"x":0.64,"y":-0.47,"c":"a"},{"x":0.94,"y":-0.91,"c":"a"},{"x":0.53,"y":-0.85,"c":"a"},{"x":0.56,"y":-0.96,"c":"a"},{"x":0.33,"y":-0.81,"c":"a"},{"x":0.18,"y":-1.08,"c":"a"},{"x":0.12,"y":-1.17,"c":"a"},{"x":-0.03,"y":-0.78,"c":"a"},{"x":-0.25,"y":-1.01,"c":"a"},{"x":-0.3,"y":-0.94,"c":"a"},{"x":-0.51,"y":-1.04,"c":"a"},{"x":-0.61,"y":-0.73,"c":"a"},{"x":-0.45,"y":-0.51,"c":"a"},{"x":-0.8,"y":-0.67,"c":"a"},{"x":-1.08,"y":-0.55,"c":"a"},{"x":-0.77,"y":-0.34,"c":"a"},{"x":-1.08,"y":-0.31,"c":"a"},{"x":-0.98,"y":-0.23,"c":"a"},
{"x":0.5,"y":0.1,"c":"b"},{"x":0.59,"y":0.1,"c":"b"},{"x":0.32,"y":0.15,"c":"b"},{"x":0.7,"y":0.4,"c":"b"},{"x":0.27,"y":0.34,"c":"b"},{"x":0.39,"y":0.47,"c":"b"},{"x":0.19,"y":0.32,"c":"b"},{"x":0.28,"y":0.5,"c":"b"},{"x":0.12,"y":0.67,"c":"b"},{"x":-0.05,"y":0.33,"c":"b"},{"x":-0.1,"y":0.57,"c":"b"},{"x":-0.17,"y":0.45,"c":"b"},{"x":-0.28,"y":0.63,"c":"b"},{"x":-0.26,"y":0.31,"c":"b"},{"x":-0.14,"y":0.12,"c":"b"},{"x":-0.47,"y":0.35,"c":"b"},{"x":-0.68,"y":0.25,"c":"b"},{"x":-0.33,"y":0.06,"c":"b"},{"x":-0.58,"y":-0.1,"c":"b"},{"x":-0.43,"y":-0.08,"c":"b"},{"x":-0.49,"y":-0.18,"c":"b"},{"x":-0.62,"y":-0.34,"c":"b"},{"x":-0.24,"y":-0.2,"c":"b"},{"x":-0.38,"y":-0.46,"c":"b"},{"x":-0.31,"y":-0.41,"c":"b"},{"x":-0.22,"y":-0.61,"c":"b"},{"x":-0.06,"y":-0.35,"c":"b"},{"x":0.08,"y":-0.6,"c":"b"},{"x":0.05,"y":-0.26,"c":"b"},{"x":0.24,"y":-0.67,"c":"b"},{"x":0.24,"y":-0.39,"c":"b"},{"x":0.32,"y":-0.38,"c":"b"},{"x":0.42,"y":-0.35,"c":"b"},{"x":0.32,"y":-0.08,"c":"b"},{"x":0.59,"y":-0.21,"c":"b"},{"x":0.46,"y":-0.08,"c":"b"},
{"x":-0.5,"y":0.1,"c":"b"},{"x":-0.59,"y":0.1,"c":"b"},{"x":-0.32,"y":0.15,"c":"b"},{"x":-0.7,"y":0.4,"c":"b"},{"x":-0.27,"y":0.34,"c":"b"},{"x":-0.39,"y":0.47,"c":"b"},{"x":-0.19,"y":0.32,"c":"b"},{"x":-0.28,"y":0.5,"c":"b"},{"x":-0.12,"y":0.67,"c":"b"},{"x":0.05,"y":0.33,"c":"b"},{"x":0.1,"y":0.57,"c":"b"},{"x":0.17,"y":0.45,"c":"b"},{"x":0.28,"y":0.63,"c":"b"},{"x":0.26,"y":0.31,"c":"b"},{"x":0.14,"y":0.12,"c":"b"},{"x":0.47,"y":0.35,"c":"b"},{"x":0.68,"y":0.25,"c":"b"},{"x":0.33,"y":0.06,"c":"b"},{"x":0.58,"y":-0.1,"c":"b"},{"x":0.43,"y":-0.08,"c":"b"},{"x":0.49,"y":-0.18,"c":"b"},{"x":0.62,"y":-0.34,"c":"b"},{"x":0.24,"y":-0.2,"c":"b"},{"x":0.38,"y":-0.46,"c":"b"},{"x":0.31,"y":-0.41,"c":"b"},{"x":0.22,"y":-0.61,"c":"b"},{"x":0.06,"y":-0.35,"c":"b"},{"x":-0.08,"y":-0.6,"c":"b"},{"x":-0.05,"y":-0.26,"c":"b"},{"x":-0.24,"y":-0.67,"c":"b"},{"x":-0.24,"y":-0.39,"c":"b"},{"x":-0.32,"y":-0.38,"c":"b"},{"x":-0.42,"y":-0.35,"c":"b"},{"x":-0.32,"y":-0.08,"c":"b"},{"x":-0.59,"y":-0.21,"c":"b"},{"x":-0.46,"y":-0.08,"c":"b"}
]}}
],"spacing":7.3},
{"columns":1,"center":true,"spacing":6,"concat":[
{"hconcat":[
{"title":{"text":"Noise 0.00","fontWeight":"normal","fontSize":12},"width":147,"height":139,"mark":"point",
"encoding":{"x":{"field":"x","type":"quantitative","title":null,"scale":{"domain":[-1.07,4.07],"nice":false,"zero":false},"axis":{"values":[-1,0,1,2,3,4],"format":"d"}},"y":{"field":"y","type":"quantitative","title":null,"scale":{"domain":[-0.58,3.08],"nice":false,"zero":false},"axis":{"values":[-0.5,0,0.5,1,1.5,2,2.5,3],"format":".1f"}},"color":{"field":"c","type":"nominal","legend":null}},
"data":{"values":[
{"x":1,"y":0,"c":"a"},{"x":0.99,"y":0.13,"c":"a"},{"x":0.97,"y":0.26,"c":"a"},{"x":0.92,"y":0.38,"c":"a"},{"x":0.87,"y":0.5,"c":"a"},{"x":0.79,"y":0.61,"c":"a"},{"x":0.71,"y":0.71,"c":"a"},{"x":0.61,"y":0.79,"c":"a"},{"x":0.5,"y":0.87,"c":"a"},{"x":0.38,"y":0.92,"c":"a"},{"x":0.26,"y":0.97,"c":"a"},{"x":0.13,"y":0.99,"c":"a"},{"x":0,"y":1,"c":"a"},{"x":-0.13,"y":0.99,"c":"a"},{"x":-0.26,"y":0.97,"c":"a"},{"x":-0.38,"y":0.92,"c":"a"},{"x":-0.5,"y":0.87,"c":"a"},{"x":-0.61,"y":0.79,"c":"a"},{"x":-0.71,"y":0.71,"c":"a"},{"x":-0.79,"y":0.61,"c":"a"},{"x":-0.87,"y":0.5,"c":"a"},{"x":-0.92,"y":0.38,"c":"a"},{"x":-0.97,"y":0.26,"c":"a"},{"x":-0.99,"y":0.13,"c":"a"},{"x":-1,"y":0,"c":"a"},
{"x":1,"y":0.07,"c":"a"},{"x":0.98,"y":0.2,"c":"a"},{"x":0.95,"y":0.32,"c":"a"},{"x":0.9,"y":0.44,"c":"a"},{"x":0.83,"y":0.56,"c":"a"},{"x":0.75,"y":0.66,"c":"a"},{"x":0.66,"y":0.75,"c":"a"},{"x":0.56,"y":0.83,"c":"a"},{"x":0.44,"y":0.9,"c":"a"},{"x":0.32,"y":0.95,"c":"a"},{"x":0.2,"y":0.98,"c":"a"},{"x":0.07,"y":1,"c":"a"},{"x":-0.07,"y":1,"c":"a"},{"x":-0.2,"y":0.98,"c":"a"},{"x":-0.32,"y":0.95,"c":"a"},{"x":-0.44,"y":0.9,"c":"a"},{"x":-0.56,"y":0.83,"c":"a"},{"x":-0.66,"y":0.75,"c":"a"},{"x":-0.75,"y":0.66,"c":"a"},{"x":-0.83,"y":0.56,"c":"a"},{"x":-0.9,"y":0.44,"c":"a"},{"x":-0.95,"y":0.32,"c":"a"},{"x":-0.98,"y":0.2,"c":"a"},{"x":-1,"y":0.07,"c":"a"},
{"x":0,"y":0.5,"c":"b"},{"x":0.01,"y":0.37,"c":"b"},{"x":0.03,"y":0.24,"c":"b"},{"x":0.08,"y":0.12,"c":"b"},{"x":0.13,"y":0,"c":"b"},{"x":0.21,"y":-0.11,"c":"b"},{"x":0.29,"y":-0.21,"c":"b"},{"x":0.39,"y":-0.29,"c":"b"},{"x":0.5,"y":-0.37,"c":"b"},{"x":0.62,"y":-0.42,"c":"b"},{"x":0.74,"y":-0.47,"c":"b"},{"x":0.87,"y":-0.49,"c":"b"},{"x":1,"y":-0.5,"c":"b"},{"x":1.13,"y":-0.49,"c":"b"},{"x":1.26,"y":-0.47,"c":"b"},{"x":1.38,"y":-0.42,"c":"b"},{"x":1.5,"y":-0.37,"c":"b"},{"x":1.61,"y":-0.29,"c":"b"},{"x":1.71,"y":-0.21,"c":"b"},{"x":1.79,"y":-0.11,"c":"b"},{"x":1.87,"y":0,"c":"b"},{"x":1.92,"y":0.12,"c":"b"},{"x":1.97,"y":0.24,"c":"b"},{"x":1.99,"y":0.37,"c":"b"},{"x":2,"y":0.5,"c":"b"},
{"x":0,"y":0.43,"c":"b"},{"x":0.02,"y":0.3,"c":"b"},{"x":0.05,"y":0.18,"c":"b"},{"x":0.1,"y":0.06,"c":"b"},{"x":0.17,"y":-0.06,"c":"b"},{"x":0.25,"y":-0.16,"c":"b"},{"x":0.34,"y":-0.25,"c":"b"},{"x":0.44,"y":-0.33,"c":"b"},{"x":0.56,"y":-0.4,"c":"b"},{"x":0.68,"y":-0.45,"c":"b"},{"x":0.8,"y":-0.48,"c":"b"},{"x":0.93,"y":-0.5,"c":"b"},{"x":1.07,"y":-0.5,"c":"b"},{"x":1.2,"y":-0.48,"c":"b"},{"x":1.32,"y":-0.45,"c":"b"},{"x":1.44,"y":-0.4,"c":"b"},{"x":1.56,"y":-0.33,"c":"b"},{"x":1.66,"y":-0.25,"c":"b"},{"x":1.75,"y":-0.16,"c":"b"},{"x":1.83,"y":-0.06,"c":"b"},{"x":1.9,"y":0.06,"c":"b"},{"x":1.95,"y":0.18,"c":"b"},{"x":1.98,"y":0.3,"c":"b"},{"x":2,"y":0.43,"c":"b"},
{"x":3,"y":2,"c":"c"},{"x":2.99,"y":2.13,"c":"c"},{"x":2.97,"y":2.26,"c":"c"},{"x":2.92,"y":2.38,"c":"c"},{"x":2.87,"y":2.5,"c":"c"},{"x":2.79,"y":2.61,"c":"c"},{"x":2.71,"y":2.71,"c":"c"},{"x":2.61,"y":2.79,"c":"c"},{"x":2.5,"y":2.87,"c":"c"},{"x":2.38,"y":2.92,"c":"c"},{"x":2.26,"y":2.97,"c":"c"},{"x":2.13,"y":2.99,"c":"c"},{"x":2,"y":3,"c":"c"},{"x":1.87,"y":2.99,"c":"c"},{"x":1.74,"y":2.97,"c":"c"},{"x":1.62,"y":2.92,"c":"c"},{"x":1.5,"y":2.87,"c":"c"},{"x":1.39,"y":2.79,"c":"c"},{"x":1.29,"y":2.71,"c":"c"},{"x":1.21,"y":2.61,"c":"c"},{"x":1.13,"y":2.5,"c":"c"},{"x":1.08,"y":2.38,"c":"c"},{"x":1.03,"y":2.26,"c":"c"},{"x":1.01,"y":2.13,"c":"c"},{"x":1,"y":2,"c":"c"},
{"x":3,"y":2.07,"c":"c"},{"x":2.98,"y":2.2,"c":"c"},{"x":2.95,"y":2.32,"c":"c"},{"x":2.9,"y":2.44,"c":"c"},{"x":2.83,"y":2.56,"c":"c"},{"x":2.75,"y":2.66,"c":"c"},{"x":2.66,"y":2.75,"c":"c"},{"x":2.56,"y":2.83,"c":"c"},{"x":2.44,"y":2.9,"c":"c"},{"x":2.32,"y":2.95,"c":"c"},{"x":2.2,"y":2.98,"c":"c"},{"x":2.07,"y":3,"c":"c"},{"x":1.93,"y":3,"c":"c"},{"x":1.8,"y":2.98,"c":"c"},{"x":1.68,"y":2.95,"c":"c"},{"x":1.56,"y":2.9,"c":"c"},{"x":1.44,"y":2.83,"c":"c"},{"x":1.34,"y":2.75,"c":"c"},{"x":1.25,"y":2.66,"c":"c"},{"x":1.17,"y":2.56,"c":"c"},{"x":1.1,"y":2.44,"c":"c"},{"x":1.05,"y":2.32,"c":"c"},{"x":1.02,"y":2.2,"c":"c"},{"x":1,"y":2.07,"c":"c"},
{"x":2,"y":2.5,"c":"d"},{"x":2.01,"y":2.37,"c":"d"},{"x":2.03,"y":2.24,"c":"d"},{"x":2.08,"y":2.12,"c":"d"},{"x":2.13,"y":2,"c":"d"},{"x":2.21,"y":1.89,"c":"d"},{"x":2.29,"y":1.79,"c":"d"},{"x":2.39,"y":1.71,"c":"d"},{"x":2.5,"y":1.63,"c":"d"},{"x":2.62,"y":1.58,"c":"d"},{"x":2.74,"y":1.53,"c":"d"},{"x":2.87,"y":1.51,"c":"d"},{"x":3,"y":1.5,"c":"d"},{"x":3.13,"y":1.51,"c":"d"},{"x":3.26,"y":1.53,"c":"d"},{"x":3.38,"y":1.58,"c":"d"},{"x":3.5,"y":1.63,"c":"d"},{"x":3.61,"y":1.71,"c":"d"},{"x":3.71,"y":1.79,"c":"d"},{"x":3.79,"y":1.89,"c":"d"},{"x":3.87,"y":2,"c":"d"},{"x":3.92,"y":2.12,"c":"d"},{"x":3.97,"y":2.24,"c":"d"},{"x":3.99,"y":2.37,"c":"d"},{"x":4,"y":2.5,"c":"d"},
{"x":2,"y":2.43,"c":"d"},{"x":2.02,"y":2.3,"c":"d"},{"x":2.05,"y":2.18,"c":"d"},{"x":2.1,"y":2.06,"c":"d"},{"x":2.17,"y":1.94,"c":"d"},{"x":2.25,"y":1.84,"c":"d"},{"x":2.34,"y":1.75,"c":"d"},{"x":2.44,"y":1.67,"c":"d"},{"x":2.56,"y":1.6,"c":"d"},{"x":2.68,"y":1.55,"c":"d"},{"x":2.8,"y":1.52,"c":"d"},{"x":2.93,"y":1.5,"c":"d"},{"x":3.07,"y":1.5,"c":"d"},{"x":3.2,"y":1.52,"c":"d"},{"x":3.32,"y":1.55,"c":"d"},{"x":3.44,"y":1.6,"c":"d"},{"x":3.56,"y":1.67,"c":"d"},{"x":3.66,"y":1.75,"c":"d"},{"x":3.75,"y":1.84,"c":"d"},{"x":3.83,"y":1.94,"c":"d"},{"x":3.9,"y":2.06,"c":"d"},{"x":3.95,"y":2.18,"c":"d"},{"x":3.98,"y":2.3,"c":"d"},{"x":4,"y":2.43,"c":"d"}
]}},
{"title":{"text":"Noise 0.04","fontWeight":"normal","fontSize":12},"width":147,"height":139,"mark":"point",
"encoding":{"x":{"field":"x","type":"quantitative","title":null,"scale":{"domain":[-1.1,4.1],"nice":false,"zero":false},"axis":{"values":[-1,0,1,2,3,4],"format":"d"}},"y":{"field":"y","type":"quantitative","title":null,"scale":{"domain":[-0.62,3.1],"nice":false,"zero":false},"axis":{"values":[-0.5,0,0.5,1,1.5,2,2.5,3],"format":".1f"}},"color":{"field":"c","type":"nominal","legend":null}},
"data":{"values":[
{"x":1.01,"y":-0.03,"c":"a"},{"x":0.94,"y":0.18,"c":"a"},{"x":0.97,"y":0.38,"c":"a"},{"x":0.86,"y":0.44,"c":"a"},{"x":0.83,"y":0.66,"c":"a"},{"x":0.61,"y":0.77,"c":"a"},{"x":0.5,"y":0.91,"c":"a"},{"x":0.28,"y":0.92,"c":"a"},{"x":0.21,"y":0.9,"c":"a"},{"x":0.02,"y":1.01,"c":"a"},{"x":-0.19,"y":1.04,"c":"a"},{"x":-0.29,"y":0.9,"c":"a"},{"x":-0.54,"y":0.9,"c":"a"},{"x":-0.64,"y":0.75,"c":"a"},{"x":-0.75,"y":0.64,"c":"a"},{"x":-0.92,"y":0.57,"c":"a"},{"x":-0.86,"y":0.29,"c":"a"},{"x":-0.99,"y":0.19,"c":"a"},{"x":-0.97,"y":-0.01,"c":"a"},
{"x":-1.01,"y":-0.03,"c":"a"},{"x":-0.94,"y":0.18,"c":"a"},{"x":-0.97,"y":0.38,"c":"a"},{"x":-0.86,"y":0.44,"c":"a"},{"x":-0.83,"y":0.66,"c":"a"},{"x":-0.61,"y":0.77,"c":"a"},{"x":-0.5,"y":0.91,"c":"a"},{"x":-0.28,"y":0.92,"c":"a"},{"x":-0.21,"y":0.9,"c":"a"},{"x":-0.02,"y":1.01,"c":"a"},{"x":0.19,"y":1.04,"c":"a"},{"x":0.29,"y":0.9,"c":"a"},{"x":0.54,"y":0.9,"c":"a"},{"x":0.64,"y":0.75,"c":"a"},{"x":0.75,"y":0.64,"c":"a"},{"x":0.92,"y":0.57,"c":"a"},{"x":0.86,"y":0.29,"c":"a"},{"x":0.99,"y":0.19,"c":"a"},{"x":0.97,"y":-0.01,"c":"a"},
{"x":-0.02,"y":0.44,"c":"b"},{"x":-0.06,"y":0.37,"c":"b"},{"x":0.07,"y":0.18,"c":"b"},{"x":0.19,"y":-0.02,"c":"b"},{"x":0.19,"y":-0.09,"c":"b"},{"x":0.39,"y":-0.31,"c":"b"},{"x":0.48,"y":-0.37,"c":"b"},{"x":0.66,"y":-0.42,"c":"b"},{"x":0.9,"y":-0.53,"c":"b"},{"x":0.95,"y":-0.42,"c":"b"},{"x":1.19,"y":-0.49,"c":"b"},{"x":1.33,"y":-0.41,"c":"b"},{"x":1.54,"y":-0.4,"c":"b"},{"x":1.6,"y":-0.26,"c":"b"},{"x":1.79,"y":-0.1,"c":"b"},{"x":1.81,"y":-0.06,"c":"b"},{"x":1.99,"y":0.18,"c":"b"},{"x":1.95,"y":0.33,"c":"b"},{"x":2,"y":0.54,"c":"b"},
{"x":2.02,"y":0.44,"c":"b"},{"x":2.06,"y":0.37,"c":"b"},{"x":1.93,"y":0.18,"c":"b"},{"x":1.81,"y":-0.02,"c":"b"},{"x":1.81,"y":-0.09,"c":"b"},{"x":1.61,"y":-0.31,"c":"b"},{"x":1.52,"y":-0.37,"c":"b"},{"x":1.34,"y":-0.42,"c":"b"},{"x":1.1,"y":-0.53,"c":"b"},{"x":1.05,"y":-0.42,"c":"b"},{"x":0.81,"y":-0.49,"c":"b"},{"x":0.67,"y":-0.41,"c":"b"},{"x":0.46,"y":-0.4,"c":"b"},{"x":0.4,"y":-0.26,"c":"b"},{"x":0.21,"y":-0.1,"c":"b"},{"x":0.19,"y":-0.06,"c":"b"},{"x":0.01,"y":0.18,"c":"b"},{"x":0.05,"y":0.33,"c":"b"},{"x":0,"y":0.54,"c":"b"},
{"x":3,"y":1.98,"c":"c"},{"x":3,"y":2.17,"c":"c"},{"x":2.89,"y":2.41,"c":"c"},{"x":2.95,"y":2.45,"c":"c"},{"x":2.76,"y":2.66,"c":"c"},{"x":2.67,"y":2.76,"c":"c"},{"x":2.47,"y":2.91,"c":"c"},{"x":2.35,"y":2.9,"c":"c"},{"x":2.21,"y":3,"c":"c"},{"x":1.94,"y":2.94,"c":"c"},{"x":1.85,"y":3.03,"c":"c"},{"x":1.66,"y":2.91,"c":"c"},{"x":1.54,"y":2.87,"c":"c"},{"x":1.34,"y":2.78,"c":"c"},{"x":1.15,"y":2.6,"c":"c"},{"x":1.14,"y":2.53,"c":"c"},{"x":1.12,"y":2.33,"c":"c"},{"x":0.98,"y":2.23,"c":"c"},{"x":1.03,"y":1.97,"c":"c"},
{"x":1,"y":1.98,"c":"c"},{"x":1,"y":2.17,"c":"c"},{"x":1.11,"y":2.41,"c":"c"},{"x":1.05,"y":2.45,"c":"c"},{"x":1.24,"y":2.66,"c":"c"},{"x":1.33,"y":2.76,"c":"c"},{"x":1.53,"y":2.91,"c":"c"},{"x":1.65,"y":2.9,"c":"c"},{"x":1.79,"y":3,"c":"c"},{"x":2.06,"y":2.94,"c":"c"},{"x":2.15,"y":3.03,"c":"c"},{"x":2.34,"y":2.91,"c":"c"},{"x":2.46,"y":2.87,"c":"c"},{"x":2.66,"y":2.78,"c":"c"},{"x":2.85,"y":2.6,"c":"c"},{"x":2.86,"y":2.53,"c":"c"},{"x":2.88,"y":2.33,"c":"c"},{"x":3.02,"y":2.23,"c":"c"},{"x":2.97,"y":1.97,"c":"c"},
{"x":1.96,"y":2.51,"c":"d"},{"x":2.04,"y":2.37,"c":"d"},{"x":2,"y":2.1,"c":"d"},{"x":2.18,"y":2.02,"c":"d"},{"x":2.2,"y":1.86,"c":"d"},{"x":2.36,"y":1.77,"c":"d"},{"x":2.51,"y":1.61,"c":"d"},{"x":2.62,"y":1.48,"c":"d"},{"x":2.86,"y":1.53,"c":"d"},{"x":2.99,"y":1.56,"c":"d"},{"x":3.23,"y":1.48,"c":"d"},{"x":3.31,"y":1.59,"c":"d"},{"x":3.5,"y":1.61,"c":"d"},{"x":3.58,"y":1.73,"c":"d"},{"x":3.81,"y":1.93,"c":"d"},{"x":3.89,"y":1.95,"c":"d"},{"x":3.92,"y":2.18,"c":"d"},{"x":4.03,"y":2.32,"c":"d"},{"x":3.96,"y":2.54,"c":"d"},
{"x":4.04,"y":2.51,"c":"d"},{"x":3.96,"y":2.37,"c":"d"},{"x":4,"y":2.1,"c":"d"},{"x":3.82,"y":2.02,"c":"d"},{"x":3.8,"y":1.86,"c":"d"},{"x":3.64,"y":1.77,"c":"d"},{"x":3.49,"y":1.61,"c":"d"},{"x":3.38,"y":1.48,"c":"d"},{"x":3.14,"y":1.53,"c":"d"},{"x":3.01,"y":1.56,"c":"d"},{"x":2.77,"y":1.48,"c":"d"},{"x":2.69,"y":1.59,"c":"d"},{"x":2.5,"y":1.61,"c":"d"},{"x":2.42,"y":1.73,"c":"d"},{"x":2.19,"y":1.93,"c":"d"},{"x":2.11,"y":1.95,"c":"d"},{"x":2.08,"y":2.18,"c":"d"},{"x":1.97,"y":2.32,"c":"d"},{"x":2.04,"y":2.54,"c":"d"}
]}},
{"title":{"text":"Noise 0.08","fontWeight":"normal","fontSize":12},"width":147,"height":139,"mark":"point",
"encoding":{"x":{"field":"x","type":"quantitative","title":null,"scale":{"domain":[-1.12,4.15],"nice":false,"zero":false},"axis":{"values":[-1,0,1,2,3,4],"format":"d"}},"y":{"field":"y","type":"quantitative","title":null,"scale":{"domain":[-0.68,3.15],"nice":false,"zero":false},"axis":{"values":[-0.5,0,0.5,1,1.5,2,2.5,3],"format":".1f"}},"color":{"field":"c","type":"nominal","legend":null}},
"data":{"values":[
{"x":0.94,"y":0.02,"c":"a"},{"x":1,"y":0.08,"c":"a"},{"x":1.03,"y":0.4,"c":"a"},{"x":0.76,"y":0.48,"c":"a"},{"x":0.81,"y":0.76,"c":"a"},{"x":0.63,"y":0.71,"c":"a"},{"x":0.58,"y":0.88,"c":"a"},{"x":0.29,"y":0.81,"c":"a"},{"x":0.01,"y":1.05,"c":"a"},{"x":0.02,"y":1.03,"c":"a"},{"x":-0.06,"y":0.94,"c":"a"},{"x":-0.42,"y":1.04,"c":"a"},{"x":-0.44,"y":0.8,"c":"a"},{"x":-0.67,"y":0.77,"c":"a"},{"x":-0.76,"y":0.69,"c":"a"},{"x":-0.73,"y":0.4,"c":"a"},{"x":-1.04,"y":0.49,"c":"a"},{"x":-0.93,"y":0.15,"c":"a"},{"x":-1.02,"y":0.06,"c":"a"},
{"x":-0.94,"y":0.02,"c":"a"},{"x":-1,"y":0.08,"c":"a"},{"x":-1.03,"y":0.4,"c":"a"},{"x":-0.76,"y":0.48,"c":"a"},{"x":-0.81,"y":0.76,"c":"a"},{"x":-0.63,"y":0.71,"c":"a"},{"x":-0.58,"y":0.88,"c":"a"},{"x":-0.29,"y":0.81,"c":"a"},{"x":-0.01,"y":1.05,"c":"a"},{"x":-0.02,"y":1.03,"c":"a"},{"x":0.06,"y":0.94,"c":"a"},{"x":0.42,"y":1.04,"c":"a"},{"x":0.44,"y":0.8,"c":"a"},{"x":0.67,"y":0.77,"c":"a"},{"x":0.76,"y":0.69,"c":"a"},{"x":0.73,"y":0.4,"c":"a"},{"x":1.04,"y":0.49,"c":"a"},{"x":0.93,"y":0.15,"c":"a"},{"x":1.02,"y":0.06,"c":"a"},
{"x":-0.13,"y":0.45,"c":"b"},{"x":0.09,"y":0.17,"c":"b"},{"x":0.09,"y":0.18,"c":"b"},{"x":0.09,"y":0.11,"c":"b"},{"x":0.33,"y":-0.22,"c":"b"},{"x":0.29,"y":-0.21,"c":"b"},{"x":0.5,"y":-0.4,"c":"b"},{"x":0.71,"y":-0.43,"c":"b"},{"x":0.73,"y":-0.34,"c":"b"},{"x":1.15,"y":-0.6,"c":"b"},{"x":1.15,"y":-0.43,"c":"b"},{"x":1.4,"y":-0.46,"c":"b"},{"x":1.44,"y":-0.3,"c":"b"},{"x":1.66,"y":-0.34,"c":"b"},{"x":1.86,"y":-0.11,"c":"b"},{"x":1.76,"y":-0.12,"c":"b"},{"x":1.98,"y":0.26,"c":"b"},{"x":1.97,"y":0.27,"c":"b"},{"x":2.08,"y":0.5,"c":"b"},
{"x":2.13,"y":0.45,"c":"b"},{"x":1.91,"y":0.17,"c":"b"},{"x":1.9,"y":0.24,"c":"b"},{"x":1.91,"y":0.11,"c":"b"},{"x":1.67,"y":-0.22,"c":"b"},{"x":1.71,"y":-0.21,"c":"b"},{"x":1.5,"y":-0.4,"c":"b"},{"x":1.29,"y":-0.43,"c":"b"},{"x":1.27,"y":-0.34,"c":"b"},{"x":0.85,"y":-0.6,"c":"b"},{"x":0.85,"y":-0.43,"c":"b"},{"x":0.6,"y":-0.46,"c":"b"},{"x":0.56,"y":-0.3,"c":"b"},{"x":0.34,"y":-0.34,"c":"b"},{"x":0.14,"y":-0.11,"c":"b"},{"x":0.24,"y":-0.12,"c":"b"},{"x":0.02,"y":0.26,"c":"b"},{"x":0.03,"y":0.27,"c":"b"},{"x":-0.08,"y":0.5,"c":"b"},
{"x":2.97,"y":2,"c":"c"},{"x":2.99,"y":2.22,"c":"c"},{"x":3.08,"y":2.24,"c":"c"},{"x":2.77,"y":2.65,"c":"c"},{"x":2.82,"y":2.62,"c":"c"},{"x":2.62,"y":2.83,"c":"c"},{"x":2.57,"y":2.81,"c":"c"},{"x":2.27,"y":2.96,"c":"c"},{"x":2.2,"y":3.07,"c":"c"},{"x":1.88,"y":2.89,"c":"c"},{"x":1.93,"y":3.02,"c":"c"},{"x":1.6,"y":2.93,"c":"c"},{"x":1.5,"y":2.95,"c":"c"},{"x":1.38,"y":2.72,"c":"c"},{"x":1.14,"y":2.48,"c":"c"},{"x":1.19,"y":2.52,"c":"c"},{"x":1.04,"y":2.45,"c":"c"},{"x":1.14,"y":2.09,"c":"c"},{"x":0.94,"y":2.06,"c":"c"},
{"x":1.03,"y":2,"c":"c"},{"x":1.01,"y":2.22,"c":"c"},{"x":0.92,"y":2.24,"c":"c"},{"x":1.23,"y":2.65,"c":"c"},{"x":1.18,"y":2.62,"c":"c"},{"x":1.38,"y":2.83,"c":"c"},{"x":1.43,"y":2.81,"c":"c"},{"x":1.73,"y":2.96,"c":"c"},{"x":1.8,"y":3.07,"c":"c"},{"x":2.12,"y":2.89,"c":"c"},{"x":2.07,"y":3.02,"c":"c"},{"x":2.4,"y":2.93,"c":"c"},{"x":2.5,"y":2.95,"c":"c"},{"x":2.62,"y":2.72,"c":"c"},{"x":2.86,"y":2.48,"c":"c"},{"x":2.81,"y":2.52,"c":"c"},{"x":2.96,"y":2.45,"c":"c"},{"x":2.86,"y":2.09,"c":"c"},{"x":3.06,"y":2.06,"c":"c"},
{"x":2.02,"y":2.43,"c":"d"},{"x":2.11,"y":2.36,"c":"d"},{"x":1.95,"y":2.04,"c":"d"},{"x":2.17,"y":2.1,"c":"d"},{"x":2.22,"y":1.8,"c":"d"},{"x":2.44,"y":1.73,"c":"d"},{"x":2.45,"y":1.65,"c":"d"},{"x":2.5,"y":1.47,"c":"d"},{"x":2.85,"y":1.58,"c":"d"},{"x":3.11,"y":1.48,"c":"d"},{"x":3.09,"y":1.64,"c":"d"},{"x":3.4,"y":1.5,"c":"d"},{"x":3.47,"y":1.64,"c":"d"},{"x":3.65,"y":1.6,"c":"d"},{"x":3.91,"y":1.93,"c":"d"},{"x":3.77,"y":2.03,"c":"d"},{"x":3.99,"y":2.12,"c":"d"},{"x":3.96,"y":2.43,"c":"d"},{"x":4.07,"y":2.43,"c":"d"},
{"x":3.98,"y":2.43,"c":"d"},{"x":3.89,"y":2.36,"c":"d"},{"x":4.05,"y":2.04,"c":"d"},{"x":3.83,"y":2.1,"c":"d"},{"x":3.78,"y":1.8,"c":"d"},{"x":3.56,"y":1.73,"c":"d"},{"x":3.55,"y":1.65,"c":"d"},{"x":3.5,"y":1.47,"c":"d"},{"x":3.15,"y":1.58,"c":"d"},{"x":2.89,"y":1.48,"c":"d"},{"x":2.91,"y":1.64,"c":"d"},{"x":2.6,"y":1.5,"c":"d"},{"x":2.53,"y":1.64,"c":"d"},{"x":2.35,"y":1.6,"c":"d"},{"x":2.09,"y":1.93,"c":"d"},{"x":2.23,"y":2.03,"c":"d"},{"x":2.01,"y":2.12,"c":"d"},{"x":2.04,"y":2.43,"c":"d"},{"x":1.93,"y":2.43,"c":"d"}
]}},
{"title":{"text":"Noise 0.12","fontWeight":"normal","fontSize":12},"width":147,"height":139,"mark":"point",
"encoding":{"x":{"field":"x","type":"quantitative","title":null,"scale":{"domain":[-1.2,4.18],"nice":false,"zero":false},"axis":{"values":[-1,0,1,2,3,4],"format":"d"}},"y":{"field":"y","type":"quantitative","title":null,"scale":{"domain":[-0.82,3.22],"nice":false,"zero":false},"axis":{"values":[-0.5,0,0.5,1,1.5,2,2.5,3],"format":".1f"}},"color":{"field":"c","type":"nominal","legend":null}},
"data":{"values":[
{"x":1.04,"y":-0.1,"c":"a"},{"x":0.85,"y":0.19,"c":"a"},{"x":1.04,"y":0.47,"c":"a"},{"x":0.85,"y":0.33,"c":"a"},{"x":0.95,"y":0.7,"c":"a"},{"x":0.56,"y":0.76,"c":"a"},{"x":0.51,"y":0.99,"c":"a"},{"x":0.15,"y":0.87,"c":"a"},{"x":0.28,"y":0.74,"c":"a"},{"x":0.05,"y":1.04,"c":"a"},{"x":-0.23,"y":1.15,"c":"a"},{"x":-0.2,"y":0.82,"c":"a"},{"x":-0.61,"y":0.97,"c":"a"},{"x":-0.64,"y":0.72,"c":"a"},{"x":-0.7,"y":0.65,"c":"a"},{"x":-1.03,"y":0.7,"c":"a"},{"x":-0.71,"y":0.2,"c":"a"},{"x":-1.02,"y":0.24,"c":"a"},{"x":-0.92,"y":-0.02,"c":"a"},
{"x":-1.04,"y":-0.1,"c":"a"},{"x":-0.85,"y":0.19,"c":"a"},{"x":-1.04,"y":0.47,"c":"a"},{"x":-0.85,"y":0.33,"c":"a"},{"x":-0.95,"y":0.7,"c":"a"},{"x":-0.56,"y":0.76,"c":"a"},{"x":-0.51,"y":0.99,"c":"a"},{"x":-0.15,"y":0.87,"c":"a"},{"x":-0.28,"y":0.74,"c":"a"},{"x":-0.05,"y":1.04,"c":"a"},{"x":0.23,"y":1.15,"c":"a"},{"x":0.2,"y":0.82,"c":"a"},{"x":0.61,"y":0.97,"c":"a"},{"x":0.64,"y":0.72,"c":"a"},{"x":0.7,"y":0.65,"c":"a"},{"x":1.03,"y":0.7,"c":"a"},{"x":0.71,"y":0.2,"c":"a"},{"x":1.02,"y":0.24,"c":"a"},{"x":0.92,"y":-0.02,"c":"a"},
{"x":-0.07,"y":0.31,"c":"b"},{"x":-0.22,"y":0.44,"c":"b"},{"x":0.1,"y":0.21,"c":"b"},{"x":0.3,"y":-0.06,"c":"b"},{"x":0.11,"y":0,"c":"b"},{"x":0.46,"y":-0.38,"c":"b"},{"x":0.45,"y":-0.37,"c":"b"},{"x":0.67,"y":-0.37,"c":"b"},{"x":1.03,"y":-0.64,"c":"b"},{"x":0.86,"y":-0.27,"c":"b"},{"x":1.24,"y":-0.52,"c":"b"},{"x":1.32,"y":-0.36,"c":"b"},{"x":1.61,"y":-0.47,"c":"b"},{"x":1.53,"y":-0.25,"c":"b"},{"x":1.82,"y":-0.01,"c":"b"},{"x":1.69,"y":-0.17,"c":"b"},{"x":2.1,"y":0.22,"c":"b"},{"x":1.9,"y":0.32,"c":"b"},{"x":2,"y":0.62,"c":"b"},
{"x":2.07,"y":0.31,"c":"b"},{"x":2.22,"y":0.44,"c":"b"},{"x":1.9,"y":0.21,"c":"b"},{"x":1.7,"y":-0.06,"c":"b"},{"x":1.89,"y":0,"c":"b"},{"x":1.54,"y":-0.38,"c":"b"},{"x":1.55,"y":-0.3,"c":"b"},{"x":1.33,"y":-0.37,"c":"b"},{"x":0.97,"y":-0.64,"c":"b"},{"x":1.14,"y":-0.27,"c":"b"},{"x":0.76,"y":-0.52,"c":"b"},{"x":0.68,"y":-0.36,"c":"b"},{"x":0.39,"y":-0.47,"c":"b"},{"x":0.47,"y":-0.25,"c":"b"},{"x":0.18,"y":-0.01,"c":"b"},{"x":0.31,"y":-0.17,"c":"b"},{"x":-0.1,"y":0.22,"c":"b"},{"x":0.1,"y":0.32,"c":"b"},{"x":0,"y":0.62,"c":"b"},
{"x":3,"y":1.95,"c":"c"},{"x":3.05,"y":2.18,"c":"c"},{"x":2.78,"y":2.54,"c":"c"},{"x":3.1,"y":2.36,"c":"c"},{"x":2.73,"y":2.71,"c":"c"},{"x":2.72,"y":2.75,"c":"c"},{"x":2.4,"y":2.98,"c":"c"},{"x":2.36,"y":2.83,"c":"c"},{"x":2.3,"y":3.03,"c":"c"},{"x":1.83,"y":2.82,"c":"c"},{"x":1.89,"y":3.14,"c":"c"},{"x":1.65,"y":2.86,"c":"c"},{"x":1.62,"y":2.87,"c":"c"},{"x":1.29,"y":2.81,"c":"c"},{"x":0.99,"y":2.51,"c":"c"},{"x":1.17,"y":2.6,"c":"c"},{"x":1.23,"y":2.32,"c":"c"},{"x":0.9,"y":2.35,"c":"c"},{"x":1.1,"y":1.92,"c":"c"},
{"x":1,"y":1.95,"c":"c"},{"x":0.95,"y":2.18,"c":"c"},{"x":1.22,"y":2.54,"c":"c"},{"x":0.9,"y":2.36,"c":"c"},{"x":1.27,"y":2.71,"c":"c"},{"x":1.28,"y":2.75,"c":"c"},{"x":1.6,"y":2.98,"c":"c"},{"x":1.64,"y":2.83,"c":"c"},{"x":1.7,"y":3.03,"c":"c"},{"x":2.17,"y":2.82,"c":"c"},{"x":2.11,"y":3.14,"c":"c"},{"x":2.35,"y":2.86,"c":"c"},{"x":2.38,"y":2.87,"c":"c"},{"x":2.71,"y":2.81,"c":"c"},{"x":3.01,"y":2.51,"c":"c"},{"x":2.83,"y":2.6,"c":"c"},{"x":2.77,"y":2.32,"c":"c"},{"x":3.1,"y":2.35,"c":"c"},{"x":2.9,"y":1.92,"c":"c"},
{"x":1.89,"y":2.52,"c":"d"},{"x":2.07,"y":2.46,"c":"d"},{"x":1.88,"y":1.99,"c":"d"},{"x":2.29,"y":2.06,"c":"d"},{"x":2.15,"y":1.85,"c":"d"},{"x":2.36,"y":1.85,"c":"d"},{"x":2.54,"y":1.56,"c":"d"},{"x":2.53,"y":1.32,"c":"d"},{"x":2.93,"y":1.56,"c":"d"},{"x":2.98,"y":1.67,"c":"d"},{"x":3.35,"y":1.4,"c":"d"},{"x":3.26,"y":1.66,"c":"d"},{"x":3.51,"y":1.58,"c":"d"},{"x":3.45,"y":1.74,"c":"d"},{"x":3.88,"y":2.06,"c":"d"},{"x":3.92,"y":1.86,"c":"d"},{"x":3.88,"y":2.23,"c":"d"},{"x":4.12,"y":2.31,"c":"d"},{"x":3.89,"y":2.61,"c":"d"},
{"x":4.11,"y":2.52,"c":"d"},{"x":3.93,"y":2.46,"c":"d"},{"x":4.12,"y":1.99,"c":"d"},{"x":3.71,"y":2.06,"c":"d"},{"x":3.85,"y":1.85,"c":"d"},{"x":3.64,"y":1.85,"c":"d"},{"x":3.46,"y":1.56,"c":"d"},{"x":3.47,"y":1.32,"c":"d"},{"x":3.07,"y":1.56,"c":"d"},{"x":3.02,"y":1.67,"c":"d"},{"x":2.65,"y":1.4,"c":"d"},{"x":2.74,"y":1.66,"c":"d"},{"x":2.49,"y":1.58,"c":"d"},{"x":2.55,"y":1.74,"c":"d"},{"x":2.12,"y":2.06,"c":"d"},{"x":2.08,"y":1.86,"c":"d"},{"x":2.12,"y":2.23,"c":"d"},{"x":1.88,"y":2.31,"c":"d"},{"x":2.11,"y":2.61,"c":"d"}
]}},
{"title":{"text":"Noise 0.16","fontWeight":"normal","fontSize":12},"width":147,"height":139,"mark":"point",
"encoding":{"x":{"field":"x","type":"quantitative","title":null,"scale":{"domain":[-1.28,4.41],"nice":false,"zero":false},"axis":{"values":[-1,0,1,2,3,4],"format":"d"}},"y":{"field":"y","type":"quantitative","title":null,"scale":{"domain":[-0.93,3.33],"nice":false,"zero":false},"axis":{"values":[-0.5,0,0.5,1,1.5,2,2.5,3],"format":".1f"}},"color":{"field":"c","type":"nominal","legend":null}},
"data":{"values":[
{"x":0.87,"y":0.05,"c":"a"},{"x":1.01,"y":-0.01,"c":"a"},{"x":1.12,"y":0.47,"c":"a"},{"x":0.65,"y":0.47,"c":"a"},{"x":0.85,"y":0.88,"c":"a"},{"x":0.62,"y":0.66,"c":"a"},{"x":0.66,"y":0.89,"c":"a"},{"x":0.24,"y":0.68,"c":"a"},{"x":-0.15,"y":1.12,"c":"a"},{"x":0.05,"y":1.06,"c":"a"},{"x":0.05,"y":0.9,"c":"a"},{"x":-0.5,"y":1.13,"c":"a"},{"x":-0.37,"y":0.73,"c":"a"},{"x":-0.7,"y":0.77,"c":"a"},{"x":-0.75,"y":0.74,"c":"a"},{"x":-0.6,"y":0.29,"c":"a"},{"x":-1.13,"y":0.64,"c":"a"},{"x":-0.88,"y":0.12,"c":"a"},{"x":-1.03,"y":0.11,"c":"a"},
{"x":-0.87,"y":0.05,"c":"a"},{"x":-1.01,"y":-0.01,"c":"a"},{"x":-1.12,"y":0.47,"c":"a"},{"x":-0.65,"y":0.47,"c":"a"},{"x":-0.85,"y":0.88,"c":"a"},{"x":-0.62,"y":0.66,"c":"a"},{"x":-0.66,"y":0.89,"c":"a"},{"x":-0.24,"y":0.68,"c":"a"},{"x":0.15,"y":1.12,"c":"a"},{"x":-0.05,"y":1.06,"c":"a"},{"x":-0.05,"y":0.9,"c":"a"},{"x":0.5,"y":1.13,"c":"a"},{"x":0.37,"y":0.73,"c":"a"},{"x":0.7,"y":0.77,"c":"a"},{"x":0.75,"y":0.74,"c":"a"},{"x":0.6,"y":0.29,"c":"a"},{"x":1.13,"y":0.64,"c":"a"},{"x":0.88,"y":0.12,"c":"a"},{"x":1.03,"y":0.11,"c":"a"},
{"x":-0.26,"y":0.4,"c":"b"},{"x":0.16,"y":0.01,"c":"b"},{"x":0.12,"y":0.21,"c":"b"},{"x":0.05,"y":0.22,"c":"b"},{"x":0.42,"y":-0.3,"c":"b"},{"x":0.22,"y":-0.14,"c":"b"},{"x":0.5,"y":-0.43,"c":"b"},{"x":0.76,"y":-0.42,"c":"b"},{"x":0.62,"y":-0.21,"c":"b"},{"x":1.3,"y":-0.69,"c":"b"},{"x":1.12,"y":-0.38,"c":"b"},{"x":1.45,"y":-0.47,"c":"b"},{"x":1.37,"y":-0.23,"c":"b"},{"x":1.67,"y":-0.41,"c":"b"},{"x":1.95,"y":-0.08,"c":"b"},{"x":1.65,"y":-0.24,"c":"b"},{"x":2.02,"y":0.37,"c":"b"},{"x":1.96,"y":0.22,"c":"b"},{"x":2.16,"y":0.5,"c":"b"},
{"x":2.26,"y":0.4,"c":"b"},{"x":1.84,"y":0.01,"c":"b"},{"x":1.88,"y":0.21,"c":"b"},{"x":1.95,"y":0.22,"c":"b"},{"x":1.58,"y":-0.3,"c":"b"},{"x":1.78,"y":-0.14,"c":"b"},{"x":1.5,"y":-0.43,"c":"b"},{"x":1.24,"y":-0.42,"c":"b"},{"x":1.38,"y":-0.21,"c":"b"},{"x":0.7,"y":-0.69,"c":"b"},{"x":0.88,"y":-0.38,"c":"b"},{"x":0.55,"y":-0.47,"c":"b"},{"x":0.63,"y":-0.23,"c":"b"},{"x":0.33,"y":-0.41,"c":"b"},{"x":0.05,"y":-0.08,"c":"b"},{"x":0.35,"y":-0.24,"c":"b"},{"x":-0.02,"y":0.37,"c":"b"},{"x":0.04,"y":0.22,"c":"b"},{"x":-0.16,"y":0.5,"c":"b"},
{"x":2.94,"y":2,"c":"c"},{"x":3,"y":2.27,"c":"c"},{"x":3.21,"y":2.13,"c":"c"},{"x":2.68,"y":2.8,"c":"c"},{"x":2.87,"y":2.59,"c":"c"},{"x":2.61,"y":2.88,"c":"c"},{"x":2.64,"y":2.74,"c":"c"},{"x":2.2,"y":2.97,"c":"c"},{"x":2.23,"y":3.16,"c":"c"},{"x":1.76,"y":2.78,"c":"c"},{"x":2.04,"y":3.06,"c":"c"},{"x":1.55,"y":2.92,"c":"c"},{"x":1.5,"y":3.03,"c":"c"},{"x":1.41,"y":2.67,"c":"c"},{"x":1.05,"y":2.32,"c":"c"},{"x":1.26,"y":2.55,"c":"c"},{"x":1.03,"y":2.56,"c":"c"},{"x":1.26,"y":2.01,"c":"c"},{"x":0.89,"y":2.13,"c":"c"},
{"x":1.06,"y":2,"c":"c"},{"x":1,"y":2.27,"c":"c"},{"x":0.79,"y":2.13,"c":"c"},{"x":1.32,"y":2.8,"c":"c"},{"x":1.13,"y":2.59,"c":"c"},{"x":1.39,"y":2.88,"c":"c"},{"x":1.36,"y":2.74,"c":"c"},{"x":1.8,"y":2.97,"c":"c"},{"x":1.77,"y":3.16,"c":"c"},{"x":2.24,"y":2.78,"c":"c"},{"x":1.96,"y":3.06,"c":"c"},{"x":2.45,"y":2.92,"c":"c"},{"x":2.5,"y":3.03,"c":"c"},{"x":2.59,"y":2.67,"c":"c"},{"x":2.95,"y":2.32,"c":"c"},{"x":2.74,"y":2.55,"c":"c"},{"x":2.97,"y":2.56,"c":"c"},{"x":2.74,"y":2.01,"c":"c"},{"x":3.11,"y":2.13,"c":"c"},
{"x":2.03,"y":2.36,"c":"d"},{"x":2.2,"y":2.39,"c":"d"},{"x":1.84,"y":1.92,"c":"d"},{"x":2.21,"y":2.21,"c":"d"},{"x":2.21,"y":1.75,"c":"d"},{"x":2.52,"y":1.73,"c":"d"},{"x":2.4,"y":1.68,"c":"d"},{"x":2.34,"y":1.38,"c":"d"},{"x":2.88,"y":1.65,"c":"d"},{"x":3.22,"y":1.47,"c":"d"},{"x":3.01,"y":1.76,"c":"d"},{"x":3.47,"y":1.45,"c":"d"},{"x":3.44,"y":1.65,"c":"d"},{"x":3.66,"y":1.47,"c":"d"},{"x":4.04,"y":2,"c":"d"},{"x":3.68,"y":2.06,"c":"d"},{"x":4.04,"y":2.08,"c":"d"},{"x":3.95,"y":2.52,"c":"d"},{"x":4.14,"y":2.36,"c":"d"},
{"x":3.97,"y":2.36,"c":"d"},{"x":3.8,"y":2.39,"c":"d"},{"x":4.16,"y":1.92,"c":"d"},{"x":3.79,"y":2.21,"c":"d"},{"x":3.79,"y":1.75,"c":"d"},{"x":3.48,"y":1.73,"c":"d"},{"x":3.6,"y":1.68,"c":"d"},{"x":3.66,"y":1.38,"c":"d"},{"x":3.12,"y":1.65,"c":"d"},{"x":2.78,"y":1.47,"c":"d"},{"x":2.99,"y":1.76,"c":"d"},{"x":2.53,"y":1.45,"c":"d"},{"x":2.56,"y":1.65,"c":"d"},{"x":2.34,"y":1.47,"c":"d"},{"x":1.96,"y":2,"c":"d"},{"x":2.32,"y":2.06,"c":"d"},{"x":1.96,"y":2.08,"c":"d"},{"x":2.05,"y":2.52,"c":"d"},{"x":1.86,"y":2.36,"c":"d"}
]}}
],"spacing":4.3},
{"hconcat":[
{"title":{"text":"Std 0.01","fontWeight":"normal","fontSize":11},"width":145,"height":140,"mark":"point",
"encoding":{"x":{"field":"x","type":"quantitative","title":null,"scale":{"domain":[-2,2],"nice":false,"zero":false},"axis":{"values":[-2,-1.5,-1,-0.5,0,0.5,1,1.5,2],"format":".1f"}},"y":{"field":"y","type":"quantitative","title":null,"scale":{"domain":[-2,2],"nice":false,"zero":false},"axis":{"values":[-2,-1.5,-1,-0.5,0,0.5,1,1.5,2],"format":".1f"}},"color":{"field":"c","type":"nominal","legend":null}},
"data":{"values":[
{"x":-1,"y":-1.01,"c":"a"},{"x":-1.01,"y":-1,"c":"a"},{"x":-0.99,"y":0,"c":"b"},{"x":-1,"y":-0.01,"c":"b"},{"x":-1,"y":1.01,"c":"c"},{"x":-0.99,"y":1,"c":"c"},{"x":-0.01,"y":-1,"c":"d"},{"x":0,"y":-0.99,"c":"d"},{"x":0,"y":0.99,"c":"e"},{"x":0.01,"y":1,"c":"e"},{"x":1,"y":1.01,"c":"f"},{"x":0.99,"y":1,"c":"f"},{"x":-0.01,"y":0,"c":"g"},{"x":0,"y":-0.01,"c":"g"},{"x":1.01,"y":0,"c":"h"},{"x":1,"y":0.01,"c":"h"},{"x":1,"y":-0.98,"c":"i"},{"x":1.01,"y":-1,"c":"i"}
]}},
{"title":{"text":"Std 0.04","fontWeight":"normal","fontSize":11},"width":145,"height":140,"mark":"point",
"encoding":{"x":{"field":"x","type":"quantitative","title":null,"scale":{"domain":[-2,2],"nice":false,"zero":false},"axis":{"values":[-2,-1.5,-1,-0.5,0,0.5,1,1.5,2],"format":".1f"}},"y":{"field":"y","type":"quantitative","title":null,"scale":{"domain":[-2,2],"nice":false,"zero":false},"axis":{"values":[-2,-1.5,-1,-0.5,0,0.5,1,1.5,2],"format":".1f"}},"color":{"field":"c","type":"nominal","legend":null}},
"data":{"values":[
{"x":-0.99,"y":-1.03,"c":"a"},{"x":-1.04,"y":-0.99,"c":"a"},{"x":-0.97,"y":-0.96,"c":"a"},{"x":-1.01,"y":-1.06,"c":"a"},{"x":-0.94,"y":-0.98,"c":"a"},
{"x":-0.97,"y":0.01,"c":"b"},{"x":-1.01,"y":-0.04,"c":"b"},{"x":-1.04,"y":0.03,"c":"b"},{"x":-0.94,"y":-0.01,"c":"b"},{"x":-1.02,"y":0.06,"c":"b"},
{"x":-1.01,"y":1.03,"c":"c"},{"x":-0.96,"y":0.99,"c":"c"},{"x":-1.03,"y":0.96,"c":"c"},{"x":-0.99,"y":1.06,"c":"c"},{"x":-1.06,"y":0.98,"c":"c"},
{"x":-0.03,"y":-1.01,"c":"d"},{"x":0.01,"y":-0.96,"c":"d"},{"x":0.04,"y":-1.03,"c":"d"},{"x":-0.06,"y":-0.99,"c":"d"},{"x":0.02,"y":-1.06,"c":"d"},
{"x":-0.01,"y":0.97,"c":"e"},{"x":0.04,"y":1.01,"c":"e"},{"x":-0.03,"y":1.04,"c":"e"},{"x":0.01,"y":0.94,"c":"e"},{"x":-0.06,"y":1.02,"c":"e"},
{"x":1.01,"y":1.03,"c":"f"},{"x":0.96,"y":0.99,"c":"f"},{"x":1.03,"y":0.96,"c":"f"},{"x":0.99,"y":1.06,"c":"f"},{"x":1.06,"y":0.98,"c":"f"},
{"x":-0.03,"y":0.01,"c":"g"},{"x":0.01,"y":-0.04,"c":"g"},{"x":0.04,"y":0.03,"c":"g"},{"x":-0.06,"y":-0.01,"c":"g"},{"x":0.02,"y":0.06,"c":"g"},
{"x":1.03,"y":-0.01,"c":"h"},{"x":0.99,"y":0.04,"c":"h"},{"x":0.96,"y":-0.03,"c":"h"},{"x":1.06,"y":0.01,"c":"h"},{"x":0.98,"y":-0.06,"c":"h"},
{"x":1.02,"y":-0.94,"c":"i"},{"x":1.04,"y":-1.01,"c":"i"},{"x":0.94,"y":-1.02,"c":"i"},{"x":1,"y":-0.96,"c":"i"},{"x":0.97,"y":-1,"c":"i"}
]}},
{"title":{"text":"Std 0.08","fontWeight":"normal","fontSize":11},"width":145,"height":140,"mark":"point",
"encoding":{"x":{"field":"x","type":"quantitative","title":null,"scale":{"domain":[-2,2],"nice":false,"zero":false},"axis":{"values":[-2,-1.5,-1,-0.5,0,0.5,1,1.5,2],"format":".1f"}},"y":{"field":"y","type":"quantitative","title":null,"scale":{"domain":[-2,2],"nice":false,"zero":false},"axis":{"values":[-2,-1.5,-1,-0.5,0,0.5,1,1.5,2],"format":".1f"}},"color":{"field":"c","type":"nominal","legend":null}},
"data":{"values":[
{"x":-0.98,"y":-1.06,"c":"a"},{"x":-1.09,"y":-0.98,"c":"a"},{"x":-0.94,"y":-0.91,"c":"a"},{"x":-1.02,"y":-1.11,"c":"a"},{"x":-0.88,"y":-0.96,"c":"a"},{"x":-1.06,"y":-1.01,"c":"a"},
{"x":-0.94,"y":0.02,"c":"b"},{"x":-1.02,"y":-0.09,"c":"b"},{"x":-1.09,"y":0.06,"c":"b"},{"x":-0.89,"y":-0.02,"c":"b"},{"x":-1.04,"y":0.12,"c":"b"},{"x":-0.99,"y":-0.06,"c":"b"},
{"x":-1.02,"y":1.06,"c":"c"},{"x":-0.91,"y":0.98,"c":"c"},{"x":-1.06,"y":0.91,"c":"c"},{"x":-0.98,"y":1.11,"c":"c"},{"x":-1.12,"y":0.96,"c":"c"},{"x":-0.94,"y":1.01,"c":"c"},
{"x":-0.06,"y":-1.02,"c":"d"},{"x":0.02,"y":-0.91,"c":"d"},{"x":0.09,"y":-1.06,"c":"d"},{"x":-0.11,"y":-0.98,"c":"d"},{"x":0.04,"y":-1.12,"c":"d"},{"x":-0.01,"y":-0.94,"c":"d"},
{"x":-0.02,"y":0.94,"c":"e"},{"x":0.09,"y":1.02,"c":"e"},{"x":-0.06,"y":1.09,"c":"e"},{"x":0.02,"y":0.89,"c":"e"},{"x":-0.12,"y":1.04,"c":"e"},{"x":0.06,"y":0.99,"c":"e"},
{"x":1.02,"y":1.06,"c":"f"},{"x":0.91,"y":0.98,"c":"f"},{"x":1.06,"y":0.91,"c":"f"},{"x":0.98,"y":1.11,"c":"f"},{"x":1.12,"y":0.96,"c":"f"},{"x":0.94,"y":1.01,"c":"f"},
{"x":-0.06,"y":0.02,"c":"g"},{"x":0.02,"y":-0.09,"c":"g"},{"x":0.09,"y":0.06,"c":"g"},{"x":-0.11,"y":-0.02,"c":"g"},{"x":0.04,"y":0.12,"c":"g"},{"x":-0.01,"y":-0.06,"c":"g"},
{"x":1.06,"y":-0.02,"c":"h"},{"x":0.98,"y":0.09,"c":"h"},{"x":0.91,"y":-0.06,"c":"h"},{"x":1.11,"y":0.02,"c":"h"},{"x":0.96,"y":-0.12,"c":"h"},{"x":1.01,"y":0.06,"c":"h"},
{"x":1.03,"y":-0.87,"c":"i"},{"x":1.07,"y":-1.02,"c":"i"},{"x":0.87,"y":-1.05,"c":"i"},{"x":1.01,"y":-0.92,"c":"i"},{"x":0.94,"y":-1.01,"c":"i"},{"x":1.12,"y":-0.96,"c":"i"}
]}},
{"title":{"text":"Std 0.12","fontWeight":"normal","fontSize":11},"width":145,"height":140,"mark":"point",
"encoding":{"x":{"field":"x","type":"quantitative","title":null,"scale":{"domain":[-2,2],"nice":false,"zero":false},"axis":{"values":[-2,-1.5,-1,-0.5,0,0.5,1,1.5,2],"format":".1f"}},"y":{"field":"y","type":"quantitative","title":null,"scale":{"domain":[-2,2],"nice":false,"zero":false},"axis":{"values":[-2,-1.5,-1,-0.5,0,0.5,1,1.5,2],"format":".1f"}},"color":{"field":"c","type":"nominal","legend":null}},
"data":{"values":[
{"x":-0.96,"y":-1.1,"c":"a"},{"x":-1.13,"y":-0.98,"c":"a"},{"x":-0.9,"y":-0.87,"c":"a"},{"x":-1.02,"y":-1.17,"c":"a"},{"x":-0.82,"y":-0.94,"c":"a"},{"x":-1.08,"y":-1.01,"c":"a"},{"x":-0.99,"y":-0.88,"c":"a"},
{"x":-1.04,"y":-0.9,"c":"a"},{"x":-0.87,"y":-1.02,"c":"a"},{"x":-1.1,"y":-1.13,"c":"a"},{"x":-0.98,"y":-0.83,"c":"a"},{"x":-1.18,"y":-1.06,"c":"a"},{"x":-0.92,"y":-0.99,"c":"a"},{"x":-1.01,"y":-1.12,"c":"a"},
{"x":-0.9,"y":0.04,"c":"b"},{"x":-1.02,"y":-0.13,"c":"b"},{"x":-1.13,"y":0.1,"c":"b"},{"x":-0.83,"y":-0.02,"c":"b"},{"x":-1.06,"y":0.18,"c":"b"},{"x":-0.99,"y":-0.08,"c":"b"},{"x":-1.12,"y":0.01,"c":"b"},
{"x":-1.1,"y":-0.04,"c":"b"},{"x":-0.98,"y":0.13,"c":"b"},{"x":-0.87,"y":-0.1,"c":"b"},{"x":-1.17,"y":0.02,"c":"b"},{"x":-0.94,"y":-0.18,"c":"b"},{"x":-1.01,"y":0.08,"c":"b"},{"x":-0.88,"y":-0.01,"c":"b"},
{"x":-1.04,"y":1.1,"c":"c"},{"x":-0.87,"y":0.98,"c":"c"},{"x":-1.1,"y":0.87,"c":"c"},{"x":-0.98,"y":1.17,"c":"c"},{"x":-1.18,"y":0.94,"c":"c"},{"x":-0.92,"y":1.01,"c":"c"},{"x":-1.01,"y":0.88,"c":"c"},
{"x":-0.96,"y":0.9,"c":"c"},{"x":-1.13,"y":1.02,"c":"c"},{"x":-0.9,"y":1.13,"c":"c"},{"x":-1.02,"y":0.83,"c":"c"},{"x":-0.82,"y":1.06,"c":"c"},{"x":-1.08,"y":0.99,"c":"c"},{"x":-0.99,"y":1.12,"c":"c"},
{"x":-0.1,"y":-1.04,"c":"d"},{"x":0.02,"y":-0.87,"c":"d"},{"x":0.13,"y":-1.1,"c":"d"},{"x":-0.17,"y":-0.98,"c":"d"},{"x":0.06,"y":-1.18,"c":"d"},{"x":-0.01,"y":-0.92,"c":"d"},{"x":0.12,"y":-1.01,"c":"d"},
{"x":0.1,"y":-0.96,"c":"d"},{"x":-0.02,"y":-1.13,"c":"d"},{"x":-0.13,"y":-0.9,"c":"d"},{"x":0.17,"y":-1.02,"c":"d"},{"x":-0.06,"y":-0.82,"c":"d"},{"x":0.01,"y":-1.08,"c":"d"},{"x":-0.12,"y":-0.99,"c":"d"},
{"x":-0.04,"y":0.9,"c":"e"},{"x":0.13,"y":1.02,"c":"e"},{"x":-0.1,"y":1.13,"c":"e"},{"x":0.02,"y":0.83,"c":"e"},{"x":-0.18,"y":1.06,"c":"e"},{"x":0.08,"y":0.99,"c":"e"},{"x":-0.01,"y":1.12,"c":"e"},
{"x":0.04,"y":1.1,"c":"e"},{"x":-0.13,"y":0.98,"c":"e"},{"x":0.1,"y":0.87,"c":"e"},{"x":-0.02,"y":1.17,"c":"e"},{"x":0.18,"y":0.94,"c":"e"},{"x":-0.08,"y":1.01,"c":"e"},{"x":0.01,"y":0.88,"c":"e"},
{"x":1.04,"y":1.1,"c":"f"},{"x":0.87,"y":0.98,"c":"f"},{"x":1.1,"y":0.87,"c":"f"},{"x":0.98,"y":1.17,"c":"f"},{"x":1.18,"y":0.94,"c":"f"},{"x":0.92,"y":1.01,"c":"f"},{"x":1.01,"y":0.88,"c":"f"},
{"x":0.96,"y":0.9,"c":"f"},{"x":1.13,"y":1.02,"c":"f"},{"x":0.9,"y":1.13,"c":"f"},{"x":1.02,"y":0.83,"c":"f"},{"x":0.82,"y":1.06,"c":"f"},{"x":1.08,"y":0.99,"c":"f"},{"x":0.99,"y":1.12,"c":"f"},
{"x":-0.1,"y":0.04,"c":"g"},{"x":0.02,"y":-0.13,"c":"g"},{"x":0.13,"y":0.1,"c":"g"},{"x":-0.17,"y":-0.02,"c":"g"},{"x":0.06,"y":0.18,"c":"g"},{"x":-0.01,"y":-0.08,"c":"g"},{"x":0.12,"y":0.01,"c":"g"},
{"x":0.1,"y":-0.04,"c":"g"},{"x":-0.02,"y":0.13,"c":"g"},{"x":-0.13,"y":-0.1,"c":"g"},{"x":0.17,"y":0.02,"c":"g"},{"x":-0.06,"y":-0.18,"c":"g"},{"x":0.01,"y":0.08,"c":"g"},{"x":-0.12,"y":-0.01,"c":"g"},
{"x":1.1,"y":-0.04,"c":"h"},{"x":0.98,"y":0.13,"c":"h"},{"x":0.87,"y":-0.1,"c":"h"},{"x":1.17,"y":0.02,"c":"h"},{"x":0.94,"y":-0.18,"c":"h"},{"x":1.01,"y":0.08,"c":"h"},{"x":0.88,"y":-0.01,"c":"h"},
{"x":0.9,"y":0.04,"c":"h"},{"x":1.02,"y":-0.13,"c":"h"},{"x":1.13,"y":0.1,"c":"h"},{"x":0.83,"y":-0.02,"c":"h"},{"x":1.06,"y":0.18,"c":"h"},{"x":0.99,"y":-0.08,"c":"h"},{"x":1.12,"y":0.01,"c":"h"},
{"x":1.05,"y":-0.81,"c":"i"},{"x":1.11,"y":-1.04,"c":"i"},{"x":0.81,"y":-1.07,"c":"i"},{"x":1.01,"y":-0.88,"c":"i"},{"x":0.92,"y":-1.01,"c":"i"},{"x":1.18,"y":-0.94,"c":"i"},{"x":0.98,"y":-1.17,"c":"i"},
{"x":0.95,"y":-1.19,"c":"i"},{"x":0.89,"y":-0.96,"c":"i"},{"x":1.19,"y":-0.93,"c":"i"},{"x":0.99,"y":-1.12,"c":"i"},{"x":1.08,"y":-0.99,"c":"i"},{"x":0.82,"y":-1.06,"c":"i"},{"x":1.02,"y":-0.83,"c":"i"}
]}},
{"title":{"text":"Std 0.16","fontWeight":"normal","fontSize":11},"width":145,"height":140,"mark":"point",
"encoding":{"x":{"field":"x","type":"quantitative","title":null,"scale":{"domain":[-2,2],"nice":false,"zero":false},"axis":{"values":[-2,-1.5,-1,-0.5,0,0.5,1,1.5,2],"format":".1f"}},"y":{"field":"y","type":"quantitative","title":null,"scale":{"domain":[-2,2],"nice":false,"zero":false},"axis":{"values":[-2,-1.5,-1,-0.5,0,0.5,1,1.5,2],"format":".1f"}},"color":{"field":"c","type":"nominal","legend":null}},
"data":{"values":[
{"x":-0.95,"y":-1.13,"c":"a"},{"x":-1.18,"y":-0.97,"c":"a"},{"x":-0.87,"y":-0.82,"c":"a"},{"x":-1.03,"y":-1.22,"c":"a"},{"x":-0.76,"y":-0.92,"c":"a"},{"x":-1.11,"y":-1.02,"c":"a"},{"x":-0.98,"y":-0.84,"c":"a"},{"x":-1.26,"y":-1.1,"c":"a"},
{"x":-1.05,"y":-0.87,"c":"a"},{"x":-0.82,"y":-1.03,"c":"a"},{"x":-1.13,"y":-1.18,"c":"a"},{"x":-0.97,"y":-0.78,"c":"a"},{"x":-1.24,"y":-1.08,"c":"a"},{"x":-0.89,"y":-0.98,"c":"a"},{"x":-1.02,"y":-1.16,"c":"a"},{"x":-0.74,"y":-0.9,"c":"a"},
{"x":-0.87,"y":0.05,"c":"b"},{"x":-1.03,"y":-0.18,"c":"b"},{"x":-1.18,"y":0.13,"c":"b"},{"x":-0.78,"y":-0.03,"c":"b"},{"x":-1.08,"y":0.24,"c":"b"},{"x":-0.98,"y":-0.11,"c":"b"},{"x":-1.16,"y":0.02,"c":"b"},{"x":-0.9,"y":-0.26,"c":"b"},
{"x":-1.13,"y":-0.05,"c":"b"},{"x":-0.97,"y":0.18,"c":"b"},{"x":-0.82,"y":-0.13,"c":"b"},{"x":-1.22,"y":0.03,"c":"b"},{"x":-0.92,"y":-0.24,"c":"b"},{"x":-1.02,"y":0.11,"c":"b"},{"x":-0.84,"y":-0.02,"c":"b"},{"x":-1.1,"y":0.26,"c":"b"},
{"x":-1.05,"y":1.13,"c":"c"},{"x":-0.82,"y":0.97,"c":"c"},{"x":-1.13,"y":0.82,"c":"c"},{"x":-0.97,"y":1.22,"c":"c"},{"x":-1.24,"y":0.92,"c":"c"},{"x":-0.89,"y":1.02,"c":"c"},{"x":-1.02,"y":0.84,"c":"c"},{"x":-0.74,"y":1.1,"c":"c"},
{"x":-0.95,"y":0.87,"c":"c"},{"x":-1.18,"y":1.03,"c":"c"},{"x":-0.87,"y":1.18,"c":"c"},{"x":-1.03,"y":0.78,"c":"c"},{"x":-0.76,"y":1.08,"c":"c"},{"x":-1.11,"y":0.98,"c":"c"},{"x":-0.98,"y":1.16,"c":"c"},{"x":-1.26,"y":0.9,"c":"c"},
{"x":-0.13,"y":-1.05,"c":"d"},{"x":0.03,"y":-0.82,"c":"d"},{"x":0.18,"y":-1.13,"c":"d"},{"x":-0.22,"y":-0.97,"c":"d"},{"x":0.08,"y":-1.24,"c":"d"},{"x":-0.02,"y":-0.89,"c":"d"},{"x":0.16,"y":-1.02,"c":"d"},{"x":-0.1,"y":-0.74,"c":"d"},
{"x":0.13,"y":-0.95,"c":"d"},{"x":-0.03,"y":-1.18,"c":"d"},{"x":-0.18,"y":-0.87,"c":"d"},{"x":0.22,"y":-1.03,"c":"d"},{"x":-0.08,"y":-0.76,"c":"d"},{"x":0.02,"y":-1.11,"c":"d"},{"x":-0.16,"y":-0.98,"c":"d"},{"x":0.1,"y":-1.26,"c":"d"},
{"x":-0.05,"y":0.87,"c":"e"},{"x":0.18,"y":1.03,"c":"e"},{"x":-0.13,"y":1.18,"c":"e"},{"x":0.03,"y":0.78,"c":"e"},{"x":-0.24,"y":1.08,"c":"e"},{"x":0.11,"y":0.98,"c":"e"},{"x":-0.02,"y":1.16,"c":"e"},{"x":0.26,"y":0.9,"c":"e"},
{"x":0.05,"y":1.13,"c":"e"},{"x":-0.18,"y":0.97,"c":"e"},{"x":0.13,"y":0.82,"c":"e"},{"x":-0.03,"y":1.22,"c":"e"},{"x":0.24,"y":0.92,"c":"e"},{"x":-0.11,"y":1.02,"c":"e"},{"x":0.02,"y":0.84,"c":"e"},{"x":-0.26,"y":1.1,"c":"e"},
{"x":1.05,"y":1.13,"c":"f"},{"x":0.82,"y":0.97,"c":"f"},{"x":1.13,"y":0.82,"c":"f"},{"x":0.97,"y":1.22,"c":"f"},{"x":1.24,"y":0.92,"c":"f"},{"x":0.89,"y":1.02,"c":"f"},{"x":1.02,"y":0.84,"c":"f"},{"x":0.74,"y":1.1,"c":"f"},
{"x":0.95,"y":0.87,"c":"f"},{"x":1.18,"y":1.03,"c":"f"},{"x":0.87,"y":1.18,"c":"f"},{"x":1.03,"y":0.78,"c":"f"},{"x":0.76,"y":1.08,"c":"f"},{"x":1.11,"y":0.98,"c":"f"},{"x":0.98,"y":1.16,"c":"f"},{"x":1.26,"y":0.9,"c":"f"},
{"x":-0.13,"y":0.05,"c":"g"},{"x":0.03,"y":-0.18,"c":"g"},{"x":0.18,"y":0.13,"c":"g"},{"x":-0.22,"y":-0.03,"c":"g"},{"x":0.08,"y":0.24,"c":"g"},{"x":-0.02,"y":-0.11,"c":"g"},{"x":0.16,"y":0.02,"c":"g"},{"x":-0.1,"y":-0.26,"c":"g"},
{"x":0.13,"y":-0.05,"c":"g"},{"x":-0.03,"y":0.18,"c":"g"},{"x":-0.18,"y":-0.13,"c":"g"},{"x":0.22,"y":0.03,"c":"g"},{"x":-0.08,"y":-0.24,"c":"g"},{"x":0.02,"y":0.11,"c":"g"},{"x":-0.16,"y":-0.02,"c":"g"},{"x":0.1,"y":0.26,"c":"g"},
{"x":1.13,"y":-0.05,"c":"h"},{"x":0.97,"y":0.18,"c":"h"},{"x":0.82,"y":-0.13,"c":"h"},{"x":1.22,"y":0.03,"c":"h"},{"x":0.92,"y":-0.24,"c":"h"},{"x":1.02,"y":0.11,"c":"h"},{"x":0.84,"y":-0.02,"c":"h"},{"x":1.1,"y":0.26,"c":"h"},
{"x":0.87,"y":0.05,"c":"h"},{"x":1.03,"y":-0.18,"c":"h"},{"x":1.18,"y":0.13,"c":"h"},{"x":0.78,"y":-0.03,"c":"h"},{"x":1.08,"y":0.24,"c":"h"},{"x":0.98,"y":-0.11,"c":"h"},{"x":1.16,"y":0.02,"c":"h"},{"x":0.9,"y":-0.26,"c":"h"},
{"x":1.06,"y":-0.74,"c":"i"},{"x":1.14,"y":-1.05,"c":"i"},{"x":0.74,"y":-1.1,"c":"i"},{"x":1.02,"y":-0.84,"c":"i"},{"x":0.89,"y":-1.02,"c":"i"},{"x":1.24,"y":-0.92,"c":"i"},{"x":0.97,"y":-1.22,"c":"i"},{"x":1.13,"y":-0.82,"c":"i"},
{"x":0.94,"y":-1.26,"c":"i"},{"x":0.86,"y":-0.95,"c":"i"},{"x":1.26,"y":-0.9,"c":"i"},{"x":0.98,"y":-1.16,"c":"i"},{"x":1.11,"y":-0.98,"c":"i"},{"x":0.76,"y":-1.08,"c":"i"},{"x":1.03,"y":-0.78,"c":"i"},{"x":0.87,"y":-1.18,"c":"i"}
]}}
],"spacing":6.95},
{"hconcat":[
{"title":{"text":"Std 0.01","fontWeight":"normal","fontSize":11},"width":151,"height":140,"mark":"point",
"encoding":{"x":{"field":"x","type":"quantitative","title":null,"scale":{"domain":[-4,4],"nice":false,"zero":false},"axis":{"values":[-4,-3,-2,-1,0,1,2,3,4],"format":"d"}},"y":{"field":"y","type":"quantitative","title":null,"scale":{"domain":[-4,4],"nice":false,"zero":false},"axis":{"values":[-4,-3,-2,-1,0,1,2,3,4],"format":"d"}},"color":{"field":"c","type":"nominal","legend":null}},
"data":{"values":[
{"x":-0.19,"y":-0.22,"c":"a"},{"x":-0.22,"y":-0.18,"c":"a"},{"x":-1.19,"y":1.44,"c":"b"},{"x":-1.19,"y":1.43,"c":"b"},{"x":-2.21,"y":3.12,"c":"c"},{"x":-2.19,"y":3.08,"c":"c"},{"x":0.99,"y":-1.64,"c":"d"},{"x":0.99,"y":-1.63,"c":"d"},{"x":-1,"y":1.64,"c":"e"},{"x":-0.99,"y":1.64,"c":"e"},{"x":0.2,"y":0.21,"c":"f"},{"x":0.19,"y":0.21,"c":"f"},{"x":-0.01,"y":0.02,"c":"g"},{"x":0.01,"y":-0.02,"c":"g"},{"x":1.21,"y":-1.47,"c":"h"},{"x":1.19,"y":-1.43,"c":"h"},{"x":2.19,"y":-3.08,"c":"i"},{"x":2.21,"y":-3.12,"c":"i"}
]}},
{"title":{"text":"Std 0.04","fontWeight":"normal","fontSize":11},"width":151,"height":140,"mark":"point",
"encoding":{"x":{"field":"x","type":"quantitative","title":null,"scale":{"domain":[-4,4],"nice":false,"zero":false},"axis":{"values":[-4,-3,-2,-1,0,1,2,3,4],"format":"d"}},"y":{"field":"y","type":"quantitative","title":null,"scale":{"domain":[-4,4],"nice":false,"zero":false},"axis":{"values":[-4,-3,-2,-1,0,1,2,3,4],"format":"d"}},"color":{"field":"c","type":"nominal","legend":null}},
"data":{"values":[
{"x":-0.15,"y":-0.27,"c":"a"},{"x":-0.26,"y":-0.12,"c":"a"},{"x":-0.21,"y":-0.17,"c":"a"},{"x":-0.15,"y":-0.28,"c":"a"},{"x":-0.15,"y":-0.25,"c":"a"},
{"x":-1.17,"y":1.42,"c":"b"},{"x":-1.17,"y":1.39,"c":"b"},{"x":-1.29,"y":1.57,"c":"b"},{"x":-1.13,"y":1.36,"c":"b"},{"x":-1.28,"y":1.58,"c":"b"},
{"x":-2.25,"y":3.17,"c":"c"},{"x":-2.14,"y":3.02,"c":"c"},{"x":-2.19,"y":3.07,"c":"c"},{"x":-2.25,"y":3.18,"c":"c"},{"x":-2.25,"y":3.15,"c":"c"},
{"x":0.97,"y":-1.62,"c":"d"},{"x":0.97,"y":-1.59,"c":"d"},{"x":1.09,"y":-1.77,"c":"d"},{"x":0.93,"y":-1.56,"c":"d"},{"x":1.08,"y":-1.78,"c":"d"},
{"x":-0.98,"y":1.61,"c":"e"},{"x":-0.96,"y":1.6,"c":"e"},{"x":-1.08,"y":1.77,"c":"e"},{"x":-0.93,"y":1.55,"c":"e"},{"x":-1.09,"y":1.77,"c":"e"},
{"x":0.18,"y":0.24,"c":"f"},{"x":0.16,"y":0.25,"c":"f"},{"x":0.28,"y":0.08,"c":"f"},{"x":0.13,"y":0.3,"c":"f"},{"x":0.29,"y":0.08,"c":"f"},
{"x":-0.05,"y":0.07,"c":"g"},{"x":0.05,"y":-0.08,"c":"g"},{"x":0.02,"y":-0.01,"c":"g"},{"x":-0.06,"y":0.07,"c":"g"},{"x":-0.04,"y":0.07,"c":"g"},
{"x":1.25,"y":-1.52,"c":"h"},{"x":1.15,"y":-1.37,"c":"h"},{"x":1.18,"y":-1.44,"c":"h"},{"x":1.26,"y":-1.52,"c":"h"},{"x":1.24,"y":-1.52,"c":"h"},
{"x":2.16,"y":-3.02,"c":"i"},{"x":2.26,"y":-3.17,"c":"i"},{"x":2.15,"y":-3.05,"c":"i"},{"x":2.17,"y":-3.04,"c":"i"},{"x":2.17,"y":-3.07,"c":"i"}
]}},
{"title":{"text":"Std 0.08","fontWeight":"normal","fontSize":11},"width":151,"height":140,"mark":"point",
"encoding":{"x":{"field":"x","type":"quantitative","title":null,"scale":{"domain":[-4,4],"nice":false,"zero":false},"axis":{"values":[-4,-3,-2,-1,0,1,2,3,4],"format":"d"}},"y":{"field":"y","type":"quantitative","title":null,"scale":{"domain":[-4,4],"nice":false,"zero":false},"axis":{"values":[-4,-3,-2,-1,0,1,2,3,4],"format":"d"}},"color":{"field":"c","type":"nominal","legend":null}},
"data":{"values":[
{"x":-0.11,"y":-0.34,"c":"a"},{"x":-0.32,"y":-0.05,"c":"a"},{"x":-0.21,"y":-0.15,"c":"a"},{"x":-0.11,"y":-0.36,"c":"a"},{"x":-0.1,"y":-0.31,"c":"a"},{"x":-0.26,"y":-0.13,"c":"a"},
{"x":-1.15,"y":1.4,"c":"b"},{"x":-1.13,"y":1.33,"c":"b"},{"x":-1.37,"y":1.68,"c":"b"},{"x":-1.05,"y":1.26,"c":"b"},{"x":-1.37,"y":1.71,"c":"b"},{"x":-1.13,"y":1.35,"c":"b"},
{"x":-2.29,"y":3.24,"c":"c"},{"x":-2.08,"y":2.95,"c":"c"},{"x":-2.19,"y":3.05,"c":"c"},{"x":-2.29,"y":3.26,"c":"c"},{"x":-2.3,"y":3.21,"c":"c"},{"x":-2.14,"y":3.03,"c":"c"},
{"x":0.95,"y":-1.6,"c":"d"},{"x":0.93,"y":-1.53,"c":"d"},{"x":1.17,"y":-1.88,"c":"d"},{"x":0.85,"y":-1.46,"c":"d"},{"x":1.17,"y":-1.91,"c":"d"},{"x":0.93,"y":-1.55,"c":"d"},
{"x":-0.97,"y":1.58,"c":"e"},{"x":-0.91,"y":1.55,"c":"e"},{"x":-1.17,"y":1.89,"c":"e"},{"x":-0.87,"y":1.44,"c":"e"},{"x":-1.18,"y":1.89,"c":"e"},{"x":-0.93,"y":1.56,"c":"e"},
{"x":0.17,"y":0.27,"c":"f"},{"x":0.11,"y":0.3,"c":"f"},{"x":0.37,"y":-0.04,"c":"f"},{"x":0.07,"y":0.41,"c":"f"},{"x":0.38,"y":-0.04,"c":"f"},{"x":0.13,"y":0.29,"c":"f"},
{"x":-0.1,"y":0.13,"c":"g"},{"x":0.11,"y":-0.17,"c":"g"},{"x":0.04,"y":-0.02,"c":"g"},{"x":-0.12,"y":0.14,"c":"g"},{"x":-0.07,"y":0.14,"c":"g"},{"x":0.05,"y":-0.08,"c":"g"},
{"x":1.3,"y":-1.58,"c":"h"},{"x":1.09,"y":-1.28,"c":"h"},{"x":1.16,"y":-1.43,"c":"h"},{"x":1.32,"y":-1.59,"c":"h"},{"x":1.27,"y":-1.59,"c":"h"},{"x":1.15,"y":-1.37,"c":"h"},
{"x":2.11,"y":-2.94,"c":"i"},{"x":2.31,"y":-3.24,"c":"i"},{"x":2.09,"y":-2.99,"c":"i"},{"x":2.13,"y":-2.98,"c":"i"},{"x":2.14,"y":-3.03,"c":"i"},{"x":2.3,"y":-3.21,"c":"i"}
]}},
{"title":{"text":"Std 0.12","fontWeight":"normal","fontSize":11},"width":151,"height":140,"mark":"point",
"encoding":{"x":{"field":"x","type":"quantitative","title":null,"scale":{"domain":[-4,4],"nice":false,"zero":false},"axis":{"values":[-4,-3,-2,-1,0,1,2,3,4],"format":"d"}},"y":{"field":"y","type":"quantitative","title":null,"scale":{"domain":[-4,4],"nice":false,"zero":false},"axis":{"values":[-4,-3,-2,-1,0,1,2,3,4],"format":"d"}},"color":{"field":"c","type":"nominal","legend":null}},
"data":{"values":[
{"x":-0.06,"y":-0.41,"c":"a"},{"x":-0.38,"y":0.03,"c":"a"},{"x":-0.22,"y":-0.12,"c":"a"},{"x":-0.06,"y":-0.44,"c":"a"},{"x":-0.04,"y":-0.36,"c":"a"},{"x":-0.29,"y":-0.1,"c":"a"},{"x":-0.31,"y":-0.02,"c":"a"},
{"x":-0.34,"y":0.01,"c":"a"},{"x":-0.02,"y":-0.43,"c":"a"},{"x":-0.18,"y":-0.28,"c":"a"},{"x":-0.34,"y":0.04,"c":"a"},{"x":-0.36,"y":-0.04,"c":"a"},{"x":-0.11,"y":-0.3,"c":"a"},{"x":-0.09,"y":-0.38,"c":"a"},
{"x":-1.12,"y":1.37,"c":"b"},{"x":-1.1,"y":1.27,"c":"b"},{"x":-1.45,"y":1.8,"c":"b"},{"x":-0.97,"y":1.17,"c":"b"},{"x":-1.45,"y":1.83,"c":"b"},{"x":-1.1,"y":1.29,"c":"b"},{"x":-1.36,"y":1.64,"c":"b"},
{"x":-1.28,"y":1.53,"c":"b"},{"x":-1.3,"y":1.63,"c":"b"},{"x":-0.95,"y":1.1,"c":"b"},{"x":-1.43,"y":1.73,"c":"b"},{"x":-0.95,"y":1.07,"c":"b"},{"x":-1.3,"y":1.61,"c":"b"},{"x":-1.04,"y":1.26,"c":"b"},
{"x":-2.34,"y":3.31,"c":"c"},{"x":-2.02,"y":2.87,"c":"c"},{"x":-2.18,"y":3.02,"c":"c"},{"x":-2.34,"y":3.34,"c":"c"},{"x":-2.36,"y":3.26,"c":"c"},{"x":-2.11,"y":3,"c":"c"},{"x":-2.09,"y":2.92,"c":"c"},
{"x":-2.06,"y":2.89,"c":"c"},{"x":-2.38,"y":3.33,"c":"c"},{"x":-2.22,"y":3.18,"c":"c"},{"x":-2.06,"y":2.86,"c":"c"},{"x":-2.04,"y":2.94,"c":"c"},{"x":-2.29,"y":3.2,"c":"c"},{"x":-2.31,"y":3.28,"c":"c"},
{"x":0.92,"y":-1.57,"c":"d"},{"x":0.9,"y":-1.47,"c":"d"},{"x":1.25,"y":-2,"c":"d"},{"x":0.77,"y":-1.37,"c":"d"},{"x":1.25,"y":-2.03,"c":"d"},{"x":0.9,"y":-1.49,"c":"d"},{"x":1.16,"y":-1.84,"c":"d"},
{"x":1.08,"y":-1.73,"c":"d"},{"x":1.1,"y":-1.83,"c":"d"},{"x":0.75,"y":-1.3,"c":"d"},{"x":1.23,"y":-1.93,"c":"d"},{"x":0.75,"y":-1.27,"c":"d"},{"x":1.1,"y":-1.81,"c":"d"},{"x":0.84,"y":-1.46,"c":"d"},
{"x":-0.95,"y":1.54,"c":"e"},{"x":-0.87,"y":1.5,"c":"e"},{"x":-1.25,"y":2.01,"c":"e"},{"x":-0.8,"y":1.34,"c":"e"},{"x":-1.28,"y":2.01,"c":"e"},{"x":-0.89,"y":1.51,"c":"e"},{"x":-1.13,"y":1.87,"c":"e"},
{"x":-1.05,"y":1.76,"c":"e"},{"x":-1.13,"y":1.8,"c":"e"},{"x":-0.75,"y":1.29,"c":"e"},{"x":-1.2,"y":1.96,"c":"e"},{"x":-0.72,"y":1.29,"c":"e"},{"x":-1.11,"y":1.79,"c":"e"},{"x":-0.87,"y":1.43,"c":"e"},
{"x":0.15,"y":0.31,"c":"f"},{"x":0.07,"y":0.35,"c":"f"},{"x":0.45,"y":-0.16,"c":"f"},{"x":0,"y":0.51,"c":"f"},{"x":0.48,"y":-0.16,"c":"f"},{"x":0.09,"y":0.34,"c":"f"},{"x":0.33,"y":-0.02,"c":"f"},
{"x":0.25,"y":0.09,"c":"f"},{"x":0.33,"y":0.05,"c":"f"},{"x":-0.05,"y":0.56,"c":"f"},{"x":0.4,"y":-0.11,"c":"f"},{"x":-0.08,"y":0.56,"c":"f"},{"x":0.31,"y":0.06,"c":"f"},{"x":0.07,"y":0.42,"c":"f"},
{"x":-0.15,"y":0.2,"c":"g"},{"x":0.16,"y":-0.25,"c":"g"},{"x":0.06,"y":-0.03,"c":"g"},{"x":-0.18,"y":0.2,"c":"g"},{"x":-0.11,"y":0.21,"c":"g"},{"x":0.07,"y":-0.12,"c":"g"},{"x":0.13,"y":-0.15,"c":"g"},
{"x":0.15,"y":-0.2,"c":"g"},{"x":-0.16,"y":0.25,"c":"g"},{"x":-0.06,"y":0.03,"c":"g"},{"x":0.18,"y":-0.2,"c":"g"},{"x":0.11,"y":-0.21,"c":"g"},{"x":-0.07,"y":0.12,"c":"g"},{"x":-0.13,"y":0.15,"c":"g"},
{"x":1.35,"y":-1.65,"c":"h"},{"x":1.04,"y":-1.2,"c":"h"},{"x":1.14,"y":-1.42,"c":"h"},{"x":1.38,"y":-1.65,"c":"h"},{"x":1.31,"y":-1.66,"c":"h"},{"x":1.13,"y":-1.33,"c":"h"},{"x":1.07,"y":-1.3,"c":"h"},
{"x":1.05,"y":-1.25,"c":"h"},{"x":1.36,"y":-1.7,"c":"h"},{"x":1.26,"y":-1.48,"c":"h"},{"x":1.02,"y":-1.25,"c":"h"},{"x":1.09,"y":-1.24,"c":"h"},{"x":1.27,"y":-1.57,"c":"h"},{"x":1.33,"y":-1.6,"c":"h"},
{"x":2.07,"y":-2.85,"c":"i"},{"x":2.37,"y":-3.32,"c":"i"},{"x":2.04,"y":-2.94,"c":"i"},{"x":2.09,"y":-2.92,"c":"i"},{"x":2.11,"y":-3,"c":"i"},{"x":2.36,"y":-3.26,"c":"i"},{"x":2.34,"y":-3.34,"c":"i"},
{"x":2.33,"y":-3.35,"c":"i"},{"x":2.03,"y":-2.88,"c":"i"},{"x":2.36,"y":-3.26,"c":"i"},{"x":2.31,"y":-3.28,"c":"i"},{"x":2.29,"y":-3.2,"c":"i"},{"x":2.04,"y":-2.94,"c":"i"},{"x":2.06,"y":-2.86,"c":"i"}
]}},
{"title":{"text":"Std 0.16","fontWeight":"normal","fontSize":11},"width":151,"height":140,"mark":"point",
"encoding":{"x":{"field":"x","type":"quantitative","title":null,"scale":{"domain":[-4,4],"nice":false,"zero":false},"axis":{"values":[-4,-3,-2,-1,0,1,2,3,4],"format":"d"}},"y":{"field":"y","type":"quantitative","title":null,"scale":{"domain":[-4,4],"nice":false,"zero":false},"axis":{"values":[-4,-3,-2,-1,0,1,2,3,4],"format":"d"}},"color":{"field":"c","type":"nominal","legend":null}},
"data":{"values":[
{"x":-0.01,"y":-0.48,"c":"a"},{"x":-0.44,"y":0.11,"c":"a"},{"x":-0.22,"y":-0.1,"c":"a"},{"x":-0.01,"y":-0.52,"c":"a"},{"x":0.01,"y":-0.42,"c":"a"},{"x":-0.32,"y":-0.06,"c":"a"},{"x":-0.34,"y":0.04,"c":"a"},{"x":-0.41,"y":0.01,"c":"a"},
{"x":-0.39,"y":0.08,"c":"a"},{"x":0.04,"y":-0.51,"c":"a"},{"x":-0.18,"y":-0.3,"c":"a"},{"x":-0.39,"y":0.12,"c":"a"},{"x":-0.41,"y":0.02,"c":"a"},{"x":-0.08,"y":-0.34,"c":"a"},{"x":-0.06,"y":-0.44,"c":"a"},{"x":0.01,"y":-0.41,"c":"a"},
{"x":-1.09,"y":1.34,"c":"b"},{"x":-1.06,"y":1.21,"c":"b"},{"x":-1.54,"y":1.92,"c":"b"},{"x":-0.9,"y":1.07,"c":"b"},{"x":-1.54,"y":1.96,"c":"b"},{"x":-1.07,"y":1.24,"c":"b"},{"x":-1.41,"y":1.71,"c":"b"},{"x":-0.83,"y":0.89,"c":"b"},
{"x":-1.31,"y":1.56,"c":"b"},{"x":-1.34,"y":1.69,"c":"b"},{"x":-0.86,"y":0.98,"c":"b"},{"x":-1.5,"y":1.83,"c":"b"},{"x":-0.86,"y":0.94,"c":"b"},{"x":-1.33,"y":1.66,"c":"b"},{"x":-0.99,"y":1.19,"c":"b"},{"x":-1.57,"y":2.01,"c":"b"},
{"x":-2.39,"y":3.38,"c":"c"},{"x":-1.96,"y":2.79,"c":"c"},{"x":-2.18,"y":3,"c":"c"},{"x":-2.39,"y":3.42,"c":"c"},{"x":-2.41,"y":3.32,"c":"c"},{"x":-2.08,"y":2.96,"c":"c"},{"x":-2.06,"y":2.86,"c":"c"},{"x":-1.99,"y":2.89,"c":"c"},
{"x":-2.01,"y":2.82,"c":"c"},{"x":-2.44,"y":3.41,"c":"c"},{"x":-2.22,"y":3.2,"c":"c"},{"x":-2.01,"y":2.78,"c":"c"},{"x":-1.99,"y":2.88,"c":"c"},{"x":-2.32,"y":3.24,"c":"c"},{"x":-2.34,"y":3.34,"c":"c"},{"x":-2.41,"y":3.31,"c":"c"},
{"x":0.89,"y":-1.54,"c":"d"},{"x":0.86,"y":-1.41,"c":"d"},{"x":1.34,"y":-2.12,"c":"d"},{"x":0.7,"y":-1.27,"c":"d"},{"x":1.34,"y":-2.16,"c":"d"},{"x":0.87,"y":-1.44,"c":"d"},{"x":1.21,"y":-1.91,"c":"d"},{"x":0.63,"y":-1.09,"c":"d"},
{"x":1.11,"y":-1.76,"c":"d"},{"x":1.14,"y":-1.89,"c":"d"},{"x":0.66,"y":-1.18,"c":"d"},{"x":1.3,"y":-2.03,"c":"d"},{"x":0.66,"y":-1.14,"c":"d"},{"x":1.13,"y":-1.86,"c":"d"},{"x":0.79,"y":-1.39,"c":"d"},{"x":1.37,"y":-2.21,"c":"d"},
{"x":-0.93,"y":1.51,"c":"e"},{"x":-0.82,"y":1.45,"c":"e"},{"x":-1.33,"y":2.13,"c":"e"},{"x":-0.74,"y":1.23,"c":"e"},{"x":-1.37,"y":2.13,"c":"e"},{"x":-0.85,"y":1.46,"c":"e"},{"x":-1.18,"y":1.94,"c":"e"},{"x":-0.6,"y":1.12,"c":"e"},
{"x":-1.07,"y":1.79,"c":"e"},{"x":-1.18,"y":1.85,"c":"e"},{"x":-0.67,"y":1.17,"c":"e"},{"x":-1.26,"y":2.07,"c":"e"},{"x":-0.63,"y":1.17,"c":"e"},{"x":-1.15,"y":1.84,"c":"e"},{"x":-0.82,"y":1.36,"c":"e"},{"x":-1.4,"y":2.18,"c":"e"},
{"x":0.13,"y":0.34,"c":"f"},{"x":0.02,"y":0.4,"c":"f"},{"x":0.53,"y":-0.28,"c":"f"},{"x":-0.06,"y":0.62,"c":"f"},{"x":0.57,"y":-0.28,"c":"f"},{"x":0.05,"y":0.39,"c":"f"},{"x":0.38,"y":-0.09,"c":"f"},{"x":-0.2,"y":0.73,"c":"f"},
{"x":0.27,"y":0.06,"c":"f"},{"x":0.38,"y":0,"c":"f"},{"x":-0.13,"y":0.68,"c":"f"},{"x":0.46,"y":-0.22,"c":"f"},{"x":-0.17,"y":0.68,"c":"f"},{"x":0.35,"y":0.01,"c":"f"},{"x":0.02,"y":0.49,"c":"f"},{"x":0.6,"y":-0.33,"c":"f"},
{"x":-0.2,"y":0.27,"c":"g"},{"x":0.21,"y":-0.34,"c":"g"},{"x":0.08,"y":-0.04,"c":"g"},{"x":-0.24,"y":0.27,"c":"g"},{"x":-0.14,"y":0.28,"c":"g"},{"x":0.09,"y":-0.16,"c":"g"},{"x":0.18,"y":-0.21,"c":"g"},{"x":0.14,"y":-0.28,"c":"g"},
{"x":0.2,"y":-0.27,"c":"g"},{"x":-0.21,"y":0.34,"c":"g"},{"x":-0.08,"y":0.04,"c":"g"},{"x":0.24,"y":-0.27,"c":"g"},{"x":0.14,"y":-0.28,"c":"g"},{"x":-0.09,"y":0.16,"c":"g"},{"x":-0.18,"y":0.21,"c":"g"},{"x":-0.14,"y":0.28,"c":"g"},
{"x":1.4,"y":-1.72,"c":"h"},{"x":0.99,"y":-1.11,"c":"h"},{"x":1.12,"y":-1.41,"c":"h"},{"x":1.44,"y":-1.72,"c":"h"},{"x":1.34,"y":-1.73,"c":"h"},{"x":1.11,"y":-1.29,"c":"h"},{"x":1.02,"y":-1.24,"c":"h"},{"x":1.06,"y":-1.17,"c":"h"},
{"x":1,"y":-1.18,"c":"h"},{"x":1.41,"y":-1.79,"c":"h"},{"x":1.28,"y":-1.49,"c":"h"},{"x":0.96,"y":-1.18,"c":"h"},{"x":1.06,"y":-1.17,"c":"h"},{"x":1.29,"y":-1.61,"c":"h"},{"x":1.38,"y":-1.66,"c":"h"},{"x":1.34,"y":-1.73,"c":"h"},
{"x":2.02,"y":-2.77,"c":"i"},{"x":2.42,"y":-3.39,"c":"i"},{"x":1.99,"y":-2.89,"c":"i"},{"x":2.06,"y":-2.86,"c":"i"},{"x":2.08,"y":-2.96,"c":"i"},{"x":2.41,"y":-3.32,"c":"i"},{"x":2.39,"y":-3.42,"c":"i"},{"x":2.18,"y":-3,"c":"i"},
{"x":2.38,"y":-3.43,"c":"i"},{"x":1.98,"y":-2.81,"c":"i"},{"x":2.41,"y":-3.31,"c":"i"},{"x":2.34,"y":-3.34,"c":"i"},{"x":2.32,"y":-3.24,"c":"i"},{"x":1.99,"y":-2.88,"c":"i"},{"x":2.01,"y":-2.78,"c":"i"},{"x":2.22,"y":-3.2,"c":"i"}
]}}
],"spacing":7.2}
]}
]
}
